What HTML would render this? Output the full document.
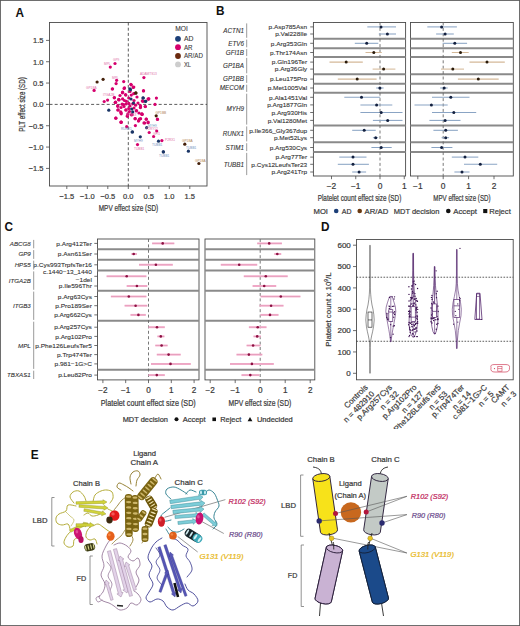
<!DOCTYPE html><html><head><meta charset="utf-8"><style>html,body{margin:0;padding:0;background:#fff;}svg{display:block;font-family:"Liberation Sans",sans-serif;}</style></head><body>
<svg width="520" height="626" viewBox="0 0 520 626">
<rect x="0" y="0" width="520" height="626" fill="#fff"/>
<text x="15.60" y="17.10" font-size="13.2" font-weight="bold" fill="#111" textLength="8.52" lengthAdjust="spacingAndGlyphs">A</text>
<rect x="49.50" y="22.50" width="157.50" height="163.50" fill="none" stroke="#4a4a4a" stroke-width="0.9"/>
<line x1="128.30" y1="22.50" x2="128.30" y2="186.00" stroke="#333" stroke-width="0.8" stroke-dasharray="3 2.2"/>
<line x1="49.50" y1="104.40" x2="207.00" y2="104.40" stroke="#333" stroke-width="0.8" stroke-dasharray="3 2.2"/>
<line x1="46.00" y1="40.40" x2="49.50" y2="40.40" stroke="#4a4a4a" stroke-width="0.8"/>
<text x="43.50" y="43.28" font-size="8.0" fill="#3a3a3a" stroke="#3a3a3a" stroke-width="0.22" text-anchor="end" textLength="10.45" lengthAdjust="spacingAndGlyphs">1.5</text>
<line x1="46.00" y1="61.73" x2="49.50" y2="61.73" stroke="#4a4a4a" stroke-width="0.8"/>
<text x="43.50" y="64.61" font-size="8.0" fill="#3a3a3a" stroke="#3a3a3a" stroke-width="0.22" text-anchor="end" textLength="10.45" lengthAdjust="spacingAndGlyphs">1.0</text>
<line x1="46.00" y1="83.06" x2="49.50" y2="83.06" stroke="#4a4a4a" stroke-width="0.8"/>
<text x="43.50" y="85.94" font-size="8.0" fill="#3a3a3a" stroke="#3a3a3a" stroke-width="0.22" text-anchor="end" textLength="10.45" lengthAdjust="spacingAndGlyphs">0.5</text>
<line x1="46.00" y1="104.40" x2="49.50" y2="104.40" stroke="#4a4a4a" stroke-width="0.8"/>
<text x="43.50" y="107.28" font-size="8.0" fill="#3a3a3a" stroke="#3a3a3a" stroke-width="0.22" text-anchor="end" textLength="10.45" lengthAdjust="spacingAndGlyphs">0.0</text>
<line x1="46.00" y1="125.74" x2="49.50" y2="125.74" stroke="#4a4a4a" stroke-width="0.8"/>
<text x="43.50" y="128.62" font-size="8.0" fill="#3a3a3a" stroke="#3a3a3a" stroke-width="0.22" text-anchor="end" textLength="14.84" lengthAdjust="spacingAndGlyphs">−0.5</text>
<line x1="46.00" y1="147.07" x2="49.50" y2="147.07" stroke="#4a4a4a" stroke-width="0.8"/>
<text x="43.50" y="149.95" font-size="8.0" fill="#3a3a3a" stroke="#3a3a3a" stroke-width="0.22" text-anchor="end" textLength="14.84" lengthAdjust="spacingAndGlyphs">−1.0</text>
<line x1="46.00" y1="168.41" x2="49.50" y2="168.41" stroke="#4a4a4a" stroke-width="0.8"/>
<text x="43.50" y="171.28" font-size="8.0" fill="#3a3a3a" stroke="#3a3a3a" stroke-width="0.22" text-anchor="end" textLength="14.84" lengthAdjust="spacingAndGlyphs">−1.5</text>
<line x1="66.80" y1="186.00" x2="66.80" y2="189.00" stroke="#4a4a4a" stroke-width="0.8"/>
<text x="66.80" y="199.18" font-size="8.0" fill="#3a3a3a" stroke="#3a3a3a" stroke-width="0.22" text-anchor="middle" textLength="14.84" lengthAdjust="spacingAndGlyphs">−1.5</text>
<line x1="87.30" y1="186.00" x2="87.30" y2="189.00" stroke="#4a4a4a" stroke-width="0.8"/>
<text x="87.30" y="199.18" font-size="8.0" fill="#3a3a3a" stroke="#3a3a3a" stroke-width="0.22" text-anchor="middle" textLength="14.84" lengthAdjust="spacingAndGlyphs">−1.0</text>
<line x1="107.80" y1="186.00" x2="107.80" y2="189.00" stroke="#4a4a4a" stroke-width="0.8"/>
<text x="107.80" y="199.18" font-size="8.0" fill="#3a3a3a" stroke="#3a3a3a" stroke-width="0.22" text-anchor="middle" textLength="14.84" lengthAdjust="spacingAndGlyphs">−0.5</text>
<line x1="128.30" y1="186.00" x2="128.30" y2="189.00" stroke="#4a4a4a" stroke-width="0.8"/>
<text x="128.30" y="199.18" font-size="8.0" fill="#3a3a3a" stroke="#3a3a3a" stroke-width="0.22" text-anchor="middle" textLength="10.45" lengthAdjust="spacingAndGlyphs">0.0</text>
<line x1="148.80" y1="186.00" x2="148.80" y2="189.00" stroke="#4a4a4a" stroke-width="0.8"/>
<text x="148.80" y="199.18" font-size="8.0" fill="#3a3a3a" stroke="#3a3a3a" stroke-width="0.22" text-anchor="middle" textLength="10.45" lengthAdjust="spacingAndGlyphs">0.5</text>
<line x1="169.30" y1="186.00" x2="169.30" y2="189.00" stroke="#4a4a4a" stroke-width="0.8"/>
<text x="169.30" y="199.18" font-size="8.0" fill="#3a3a3a" stroke="#3a3a3a" stroke-width="0.22" text-anchor="middle" textLength="10.45" lengthAdjust="spacingAndGlyphs">1.0</text>
<line x1="189.80" y1="186.00" x2="189.80" y2="189.00" stroke="#4a4a4a" stroke-width="0.8"/>
<text x="189.80" y="199.18" font-size="8.0" fill="#3a3a3a" stroke="#3a3a3a" stroke-width="0.22" text-anchor="middle" textLength="10.45" lengthAdjust="spacingAndGlyphs">1.5</text>
<text x="128.50" y="210.75" font-size="8.2" fill="#3a3a3a" stroke="#3a3a3a" stroke-width="0.22" text-anchor="middle" textLength="59.50" lengthAdjust="spacingAndGlyphs">MPV effect size (SD)</text>
<g transform="translate(21.6,104.5) rotate(-90)">
<text x="0.00" y="2.95" font-size="8.2" fill="#3a3a3a" stroke="#3a3a3a" stroke-width="0.22" text-anchor="middle" textLength="54.50" lengthAdjust="spacingAndGlyphs">PLT effect size (SD)</text>
</g>
<text x="175.20" y="31.28" font-size="6.6" fill="#3a3a3a" stroke="#3a3a3a" stroke-width="0.1" textLength="12.60" lengthAdjust="spacingAndGlyphs">MOI</text>
<circle cx="178.00" cy="38.80" r="2.9" fill="#1c3f78"/>
<text x="184.00" y="41.18" font-size="6.6" fill="#3a3a3a" stroke="#3a3a3a" stroke-width="0.1" textLength="9.50" lengthAdjust="spacingAndGlyphs">AD</text>
<circle cx="178.00" cy="47.20" r="2.9" fill="#d5006d"/>
<text x="184.00" y="49.58" font-size="6.6" fill="#3a3a3a" stroke="#3a3a3a" stroke-width="0.1" textLength="8.60" lengthAdjust="spacingAndGlyphs">AR</text>
<circle cx="178.00" cy="56.00" r="2.9" fill="#6b2a0e"/>
<text x="184.00" y="58.38" font-size="6.6" fill="#3a3a3a" stroke="#3a3a3a" stroke-width="0.1" textLength="18.90" lengthAdjust="spacingAndGlyphs">AR/AD</text>
<circle cx="178.00" cy="64.40" r="2.9" fill="#cdcdcd"/>
<text x="184.00" y="66.78" font-size="6.6" fill="#3a3a3a" stroke="#3a3a3a" stroke-width="0.1" textLength="7.00" lengthAdjust="spacingAndGlyphs">XL</text>
<circle cx="115.00" cy="63.50" r="1.6" fill="#d5006d"/>
<circle cx="110.30" cy="67.10" r="1.6" fill="#d5006d"/>
<circle cx="94.10" cy="90.40" r="1.6" fill="#d5006d"/>
<circle cx="116.60" cy="80.30" r="1.6" fill="#d5006d"/>
<circle cx="116.10" cy="83.60" r="1.6" fill="#d5006d"/>
<circle cx="112.30" cy="89.00" r="1.6" fill="#d5006d"/>
<circle cx="123.70" cy="81.60" r="1.6" fill="#d5006d"/>
<circle cx="143.90" cy="77.60" r="1.6" fill="#d5006d"/>
<circle cx="130.90" cy="84.30" r="1.6" fill="#d5006d"/>
<circle cx="143.50" cy="91.00" r="1.6" fill="#d5006d"/>
<circle cx="124.10" cy="88.40" r="1.6" fill="#d5006d"/>
<circle cx="133.80" cy="87.00" r="1.6" fill="#d5006d"/>
<circle cx="114.30" cy="97.80" r="1.6" fill="#d5006d"/>
<circle cx="107.60" cy="100.10" r="1.6" fill="#d5006d"/>
<circle cx="104.20" cy="101.50" r="1.6" fill="#d5006d"/>
<circle cx="115.30" cy="102.50" r="1.6" fill="#d5006d"/>
<circle cx="119.00" cy="100.00" r="1.6" fill="#d5006d"/>
<circle cx="122.40" cy="92.80" r="1.6" fill="#d5006d"/>
<circle cx="125.80" cy="95.10" r="1.6" fill="#d5006d"/>
<circle cx="148.00" cy="99.10" r="1.6" fill="#d5006d"/>
<circle cx="112.50" cy="88.80" r="1.6" fill="#d5006d"/>
<circle cx="124.50" cy="87.90" r="1.6" fill="#d5006d"/>
<circle cx="133.20" cy="87.40" r="1.6" fill="#d5006d"/>
<circle cx="131.30" cy="85.00" r="1.6" fill="#d5006d"/>
<circle cx="122.60" cy="92.20" r="1.6" fill="#d5006d"/>
<circle cx="125.50" cy="94.60" r="1.6" fill="#d5006d"/>
<circle cx="131.30" cy="95.10" r="1.6" fill="#d5006d"/>
<circle cx="133.70" cy="93.70" r="1.6" fill="#d5006d"/>
<circle cx="114.40" cy="97.50" r="1.6" fill="#d5006d"/>
<circle cx="118.80" cy="99.40" r="1.6" fill="#d5006d"/>
<circle cx="122.60" cy="98.90" r="1.6" fill="#d5006d"/>
<circle cx="126.40" cy="101.30" r="1.6" fill="#d5006d"/>
<circle cx="128.80" cy="98.00" r="1.6" fill="#d5006d"/>
<circle cx="115.40" cy="102.30" r="1.6" fill="#d5006d"/>
<circle cx="148.60" cy="98.90" r="1.6" fill="#d5006d"/>
<circle cx="142.30" cy="100.90" r="1.6" fill="#d5006d"/>
<circle cx="117.80" cy="105.70" r="1.6" fill="#d5006d"/>
<circle cx="122.10" cy="104.20" r="1.6" fill="#d5006d"/>
<circle cx="128.80" cy="103.30" r="1.6" fill="#d5006d"/>
<circle cx="132.70" cy="103.80" r="1.6" fill="#d5006d"/>
<circle cx="135.60" cy="105.20" r="1.6" fill="#d5006d"/>
<circle cx="140.40" cy="105.70" r="1.6" fill="#d5006d"/>
<circle cx="140.40" cy="107.60" r="1.6" fill="#d5006d"/>
<circle cx="145.20" cy="106.60" r="1.6" fill="#d5006d"/>
<circle cx="117.80" cy="110.00" r="1.6" fill="#d5006d"/>
<circle cx="120.70" cy="111.90" r="1.6" fill="#d5006d"/>
<circle cx="126.00" cy="110.00" r="1.6" fill="#d5006d"/>
<circle cx="128.80" cy="108.60" r="1.6" fill="#d5006d"/>
<circle cx="136.50" cy="110.50" r="1.6" fill="#d5006d"/>
<circle cx="127.90" cy="113.80" r="1.6" fill="#d5006d"/>
<circle cx="131.30" cy="114.80" r="1.6" fill="#d5006d"/>
<circle cx="127.40" cy="116.30" r="1.6" fill="#d5006d"/>
<circle cx="121.20" cy="113.80" r="1.6" fill="#d5006d"/>
<circle cx="141.80" cy="113.80" r="1.6" fill="#d5006d"/>
<circle cx="115.90" cy="118.20" r="1.6" fill="#d5006d"/>
<circle cx="135.10" cy="118.70" r="1.6" fill="#d5006d"/>
<circle cx="139.40" cy="119.10" r="1.6" fill="#d5006d"/>
<circle cx="146.20" cy="119.10" r="1.6" fill="#d5006d"/>
<circle cx="121.20" cy="122.00" r="1.6" fill="#d5006d"/>
<circle cx="138.50" cy="121.10" r="1.6" fill="#d5006d"/>
<circle cx="144.70" cy="123.00" r="1.6" fill="#d5006d"/>
<circle cx="148.10" cy="122.00" r="1.6" fill="#d5006d"/>
<circle cx="148.80" cy="98.80" r="1.6" fill="#d5006d"/>
<circle cx="156.40" cy="98.10" r="1.6" fill="#d5006d"/>
<circle cx="143.00" cy="101.30" r="1.6" fill="#d5006d"/>
<circle cx="155.00" cy="104.40" r="1.6" fill="#d5006d"/>
<circle cx="145.40" cy="106.50" r="1.6" fill="#d5006d"/>
<circle cx="140.60" cy="107.00" r="1.6" fill="#d5006d"/>
<circle cx="136.30" cy="110.90" r="1.6" fill="#d5006d"/>
<circle cx="142.00" cy="114.20" r="1.6" fill="#d5006d"/>
<circle cx="157.40" cy="119.00" r="1.6" fill="#d5006d"/>
<circle cx="143.50" cy="90.70" r="1.6" fill="#d5006d"/>
<circle cx="115.80" cy="118.10" r="1.6" fill="#d5006d"/>
<circle cx="121.00" cy="122.10" r="1.6" fill="#d5006d"/>
<circle cx="126.70" cy="126.70" r="1.6" fill="#d5006d"/>
<circle cx="135.20" cy="118.70" r="1.6" fill="#d5006d"/>
<circle cx="135.40" cy="125.60" r="1.6" fill="#d5006d"/>
<circle cx="138.80" cy="120.40" r="1.6" fill="#d5006d"/>
<circle cx="140.60" cy="118.70" r="1.6" fill="#d5006d"/>
<circle cx="142.10" cy="114.40" r="1.6" fill="#d5006d"/>
<circle cx="144.00" cy="122.90" r="1.6" fill="#d5006d"/>
<circle cx="146.30" cy="119.20" r="1.6" fill="#d5006d"/>
<circle cx="148.10" cy="122.70" r="1.6" fill="#d5006d"/>
<circle cx="149.20" cy="132.50" r="1.6" fill="#d5006d"/>
<circle cx="157.50" cy="119.50" r="1.6" fill="#d5006d"/>
<circle cx="156.70" cy="131.00" r="1.6" fill="#d5006d"/>
<circle cx="153.60" cy="136.50" r="1.6" fill="#d5006d"/>
<circle cx="137.50" cy="144.60" r="1.6" fill="#d5006d"/>
<circle cx="161.90" cy="140.60" r="1.6" fill="#d5006d"/>
<circle cx="118.70" cy="99.60" r="1.6" fill="#d5006d"/>
<circle cx="115.60" cy="102.20" r="1.6" fill="#d5006d"/>
<circle cx="117.70" cy="106.30" r="1.6" fill="#d5006d"/>
<circle cx="118.20" cy="109.90" r="1.6" fill="#d5006d"/>
<circle cx="121.10" cy="112.80" r="1.6" fill="#d5006d"/>
<circle cx="121.10" cy="122.40" r="1.6" fill="#d5006d"/>
<circle cx="127.30" cy="115.70" r="1.6" fill="#d5006d"/>
<circle cx="132.10" cy="114.70" r="1.6" fill="#d5006d"/>
<circle cx="123.50" cy="104.60" r="1.6" fill="#d5006d"/>
<circle cx="125.90" cy="109.90" r="1.6" fill="#d5006d"/>
<circle cx="124.00" cy="106.50" r="1.6" fill="#d5006d"/>
<circle cx="130.00" cy="106.00" r="1.6" fill="#d5006d"/>
<circle cx="134.00" cy="100.50" r="1.6" fill="#d5006d"/>
<circle cx="137.00" cy="97.00" r="1.6" fill="#d5006d"/>
<circle cx="126.00" cy="104.00" r="1.6" fill="#d5006d"/>
<circle cx="121.00" cy="107.50" r="1.6" fill="#d5006d"/>
<circle cx="129.50" cy="111.50" r="1.6" fill="#d5006d"/>
<circle cx="134.00" cy="108.00" r="1.6" fill="#d5006d"/>
<circle cx="138.00" cy="103.00" r="1.6" fill="#d5006d"/>
<circle cx="124.50" cy="100.50" r="1.6" fill="#d5006d"/>
<circle cx="130.00" cy="91.50" r="1.6" fill="#d5006d"/>
<circle cx="120.00" cy="95.50" r="1.6" fill="#d5006d"/>
<circle cx="139.00" cy="113.00" r="1.6" fill="#d5006d"/>
<circle cx="130.50" cy="89.70" r="1.6" fill="#1a3566"/>
<circle cx="129.80" cy="88.80" r="1.6" fill="#1a3566"/>
<circle cx="143.30" cy="98.00" r="1.6" fill="#1a3566"/>
<circle cx="145.70" cy="101.30" r="1.6" fill="#1a3566"/>
<circle cx="108.80" cy="110.20" r="1.6" fill="#1a3566"/>
<circle cx="131.70" cy="109.00" r="1.6" fill="#1a3566"/>
<circle cx="132.70" cy="111.90" r="1.6" fill="#1a3566"/>
<circle cx="143.00" cy="97.90" r="1.6" fill="#1a3566"/>
<circle cx="145.40" cy="101.30" r="1.6" fill="#1a3566"/>
<circle cx="132.50" cy="131.90" r="1.6" fill="#1a3566"/>
<circle cx="146.70" cy="127.70" r="1.6" fill="#1a3566"/>
<circle cx="140.30" cy="136.80" r="1.6" fill="#1a3566"/>
<circle cx="158.50" cy="141.20" r="1.6" fill="#1a3566"/>
<circle cx="163.30" cy="151.80" r="1.6" fill="#1a3566"/>
<circle cx="163.40" cy="151.90" r="1.6" fill="#1a3566"/>
<circle cx="188.40" cy="151.20" r="1.6" fill="#1a3566"/>
<circle cx="132.10" cy="132.00" r="1.6" fill="#1a3566"/>
<circle cx="131.00" cy="99.00" r="1.6" fill="#1a3566"/>
<circle cx="133.50" cy="103.00" r="1.6" fill="#1a3566"/>
<circle cx="103.10" cy="79.30" r="1.6" fill="#45200a"/>
<circle cx="97.10" cy="82.00" r="1.6" fill="#45200a"/>
<circle cx="135.90" cy="93.10" r="1.6" fill="#45200a"/>
<circle cx="135.80" cy="92.90" r="1.6" fill="#45200a"/>
<circle cx="156.20" cy="115.80" r="1.6" fill="#45200a"/>
<circle cx="184.80" cy="144.20" r="1.6" fill="#45200a"/>
<circle cx="198.90" cy="163.50" r="1.6" fill="#45200a"/>
<text x="113.00" y="60.95" font-size="3.2" fill="#e070a8">GP9</text>
<text x="104.00" y="64.65" font-size="3.2" fill="#e070a8">MPL</text>
<text x="86.00" y="88.65" font-size="3.2" fill="#e070a8">GP1BA</text>
<text x="112.00" y="78.65" font-size="3.2" fill="#e070a8">MPL</text>
<text x="140.00" y="75.35" font-size="3.2" fill="#e070a8">ADAMTS13</text>
<text x="103.00" y="95.65" font-size="3.2" fill="#e070a8">ITGA2B</text>
<text x="155.50" y="113.95" font-size="3.2" fill="#b08050">GP1BB</text>
<text x="121.00" y="129.65" font-size="3.2" fill="#7090c0">RUNX1</text>
<text x="148.00" y="126.65" font-size="3.2" fill="#70a0c0">MYH9</text>
<text x="134.00" y="141.65" font-size="3.2" fill="#7090c0">MYH9</text>
<text x="134.00" y="149.65" font-size="3.2" fill="#e070a8">TUBB1</text>
<text x="152.00" y="145.65" font-size="3.2" fill="#7090c0">TUBB1</text>
<text x="159.00" y="156.65" font-size="3.2" fill="#7090c0">TUBB1</text>
<text x="165.00" y="140.95" font-size="3.2" fill="#e070a8">P2RX1</text>
<text x="146.00" y="129.65" font-size="3.2" fill="#e070a8">P2RY12</text>
<text x="153.00" y="135.15" font-size="3.2" fill="#e070a8">GFI1</text>
<text x="182.00" y="142.15" font-size="3.2" fill="#b08050">GP1BA</text>
<text x="186.00" y="149.15" font-size="3.2" fill="#7090c0">TUBB1</text>
<text x="195.00" y="161.65" font-size="3.2" fill="#b08050">GP1BA</text>
<text x="127.00" y="116.15" font-size="3.2" fill="#e070a8">ITGB3</text>
<text x="215.90" y="15.10" font-size="13.2" font-weight="bold" fill="#111" textLength="8.52" lengthAdjust="spacingAndGlyphs">B</text>
<rect x="313.40" y="22.50" width="92.20" height="153.50" fill="#fff" stroke="#4a4a4a" stroke-width="0.9"/>
<line x1="313.40" y1="38.70" x2="405.60" y2="38.70" stroke="#8a8a8a" stroke-width="2.0"/>
<line x1="313.40" y1="48.20" x2="405.60" y2="48.20" stroke="#8a8a8a" stroke-width="2.0"/>
<line x1="313.40" y1="57.00" x2="405.60" y2="57.00" stroke="#8a8a8a" stroke-width="2.0"/>
<line x1="313.40" y1="74.20" x2="405.60" y2="74.20" stroke="#8a8a8a" stroke-width="2.0"/>
<line x1="313.40" y1="83.80" x2="405.60" y2="83.80" stroke="#8a8a8a" stroke-width="2.0"/>
<line x1="313.40" y1="92.80" x2="405.60" y2="92.80" stroke="#8a8a8a" stroke-width="2.0"/>
<line x1="313.40" y1="125.50" x2="405.60" y2="125.50" stroke="#8a8a8a" stroke-width="2.0"/>
<line x1="313.40" y1="142.30" x2="405.60" y2="142.30" stroke="#8a8a8a" stroke-width="2.0"/>
<line x1="313.40" y1="152.00" x2="405.60" y2="152.00" stroke="#8a8a8a" stroke-width="2.0"/>
<line x1="380.00" y1="22.50" x2="380.00" y2="176.00" stroke="#6a6a6a" stroke-width="0.9" stroke-dasharray="3 2.4"/>
<line x1="331.50" y1="176.00" x2="331.50" y2="179.20" stroke="#4a4a4a" stroke-width="0.8"/>
<text x="331.50" y="188.62" font-size="8.4" fill="#3a3a3a" stroke="#3a3a3a" stroke-width="0.22" text-anchor="middle">−2</text>
<line x1="355.75" y1="176.00" x2="355.75" y2="179.20" stroke="#4a4a4a" stroke-width="0.8"/>
<text x="355.75" y="188.62" font-size="8.4" fill="#3a3a3a" stroke="#3a3a3a" stroke-width="0.22" text-anchor="middle">−1</text>
<line x1="380.00" y1="176.00" x2="380.00" y2="179.20" stroke="#4a4a4a" stroke-width="0.8"/>
<text x="380.00" y="188.62" font-size="8.4" fill="#3a3a3a" stroke="#3a3a3a" stroke-width="0.22" text-anchor="middle">0</text>
<line x1="404.25" y1="176.00" x2="404.25" y2="179.20" stroke="#4a4a4a" stroke-width="0.8"/>
<text x="404.25" y="188.62" font-size="8.4" fill="#3a3a3a" stroke="#3a3a3a" stroke-width="0.22" text-anchor="middle">1</text>
<text x="359.50" y="201.10" font-size="8.6" fill="#3a3a3a" stroke="#3a3a3a" stroke-width="0.22" text-anchor="middle" textLength="83.60" lengthAdjust="spacingAndGlyphs">Platelet count effect size (SD)</text>
<line x1="367.30" y1="26.90" x2="396.00" y2="26.90" stroke="#8aa4c4" stroke-width="1.05"/>
<circle cx="381.00" cy="26.90" r="1.5" fill="#13203f"/>
<line x1="378.80" y1="34.00" x2="396.00" y2="34.00" stroke="#8aa4c4" stroke-width="1.05"/>
<circle cx="387.40" cy="34.00" r="1.5" fill="#13203f"/>
<line x1="354.80" y1="43.30" x2="378.30" y2="43.30" stroke="#8aa4c4" stroke-width="1.05"/>
<circle cx="366.70" cy="43.30" r="1.5" fill="#13203f"/>
<line x1="365.50" y1="52.50" x2="381.80" y2="52.50" stroke="#d4b898" stroke-width="1.05"/>
<circle cx="373.80" cy="52.50" r="1.5" fill="#2a1a0a"/>
<line x1="329.50" y1="62.10" x2="362.80" y2="62.10" stroke="#d4b898" stroke-width="1.05"/>
<circle cx="346.20" cy="62.10" r="1.5" fill="#2a1a0a"/>
<line x1="372.60" y1="69.10" x2="395.40" y2="69.10" stroke="#d4b898" stroke-width="1.05"/>
<circle cx="383.60" cy="69.10" r="1.5" fill="#2a1a0a"/>
<line x1="337.80" y1="79.10" x2="376.60" y2="79.10" stroke="#d4b898" stroke-width="1.05"/>
<circle cx="357.20" cy="79.10" r="1.5" fill="#2a1a0a"/>
<line x1="376.20" y1="88.00" x2="383.60" y2="88.00" stroke="#8aa4c4" stroke-width="1.05"/>
<circle cx="379.90" cy="88.00" r="1.5" fill="#13203f"/>
<line x1="344.30" y1="97.30" x2="380.30" y2="97.30" stroke="#8aa4c4" stroke-width="1.05"/>
<circle cx="361.50" cy="97.30" r="1.5" fill="#13203f"/>
<line x1="360.40" y1="104.90" x2="392.30" y2="104.90" stroke="#8aa4c4" stroke-width="1.05"/>
<circle cx="376.60" cy="104.90" r="1.5" fill="#13203f"/>
<line x1="360.40" y1="112.50" x2="402.50" y2="112.50" stroke="#8aa4c4" stroke-width="1.05"/>
<circle cx="381.20" cy="112.50" r="1.5" fill="#13203f"/>
<line x1="372.90" y1="120.40" x2="402.50" y2="120.40" stroke="#8aa4c4" stroke-width="1.05"/>
<circle cx="387.70" cy="120.40" r="1.5" fill="#13203f"/>
<line x1="352.20" y1="130.30" x2="375.70" y2="130.30" stroke="#8aa4c4" stroke-width="1.05"/>
<circle cx="364.20" cy="130.30" r="1.5" fill="#13203f"/>
<line x1="372.90" y1="137.70" x2="378.10" y2="137.70" stroke="#8aa4c4" stroke-width="1.05"/>
<circle cx="375.70" cy="137.70" r="1.5" fill="#13203f"/>
<line x1="371.40" y1="147.50" x2="391.70" y2="147.50" stroke="#8aa4c4" stroke-width="1.05"/>
<circle cx="381.20" cy="147.50" r="1.5" fill="#13203f"/>
<line x1="339.30" y1="157.10" x2="366.50" y2="157.10" stroke="#8aa4c4" stroke-width="1.05"/>
<circle cx="353.00" cy="157.10" r="1.5" fill="#13203f"/>
<line x1="337.80" y1="164.30" x2="368.90" y2="164.30" stroke="#8aa4c4" stroke-width="1.05"/>
<circle cx="353.00" cy="164.30" r="1.5" fill="#13203f"/>
<line x1="352.20" y1="172.00" x2="366.10" y2="172.00" stroke="#8aa4c4" stroke-width="1.05"/>
<circle cx="359.10" cy="172.00" r="1.5" fill="#13203f"/>
<rect x="410.50" y="22.50" width="102.80" height="153.50" fill="#fff" stroke="#4a4a4a" stroke-width="0.9"/>
<line x1="410.50" y1="38.70" x2="513.30" y2="38.70" stroke="#8a8a8a" stroke-width="2.0"/>
<line x1="410.50" y1="48.20" x2="513.30" y2="48.20" stroke="#8a8a8a" stroke-width="2.0"/>
<line x1="410.50" y1="57.00" x2="513.30" y2="57.00" stroke="#8a8a8a" stroke-width="2.0"/>
<line x1="410.50" y1="74.20" x2="513.30" y2="74.20" stroke="#8a8a8a" stroke-width="2.0"/>
<line x1="410.50" y1="83.80" x2="513.30" y2="83.80" stroke="#8a8a8a" stroke-width="2.0"/>
<line x1="410.50" y1="92.80" x2="513.30" y2="92.80" stroke="#8a8a8a" stroke-width="2.0"/>
<line x1="410.50" y1="125.50" x2="513.30" y2="125.50" stroke="#8a8a8a" stroke-width="2.0"/>
<line x1="410.50" y1="142.30" x2="513.30" y2="142.30" stroke="#8a8a8a" stroke-width="2.0"/>
<line x1="410.50" y1="152.00" x2="513.30" y2="152.00" stroke="#8a8a8a" stroke-width="2.0"/>
<line x1="443.20" y1="22.50" x2="443.20" y2="176.00" stroke="#6a6a6a" stroke-width="0.9" stroke-dasharray="3 2.4"/>
<line x1="417.80" y1="176.00" x2="417.80" y2="179.20" stroke="#4a4a4a" stroke-width="0.8"/>
<text x="417.80" y="188.62" font-size="8.4" fill="#3a3a3a" stroke="#3a3a3a" stroke-width="0.22" text-anchor="middle">−1</text>
<line x1="443.20" y1="176.00" x2="443.20" y2="179.20" stroke="#4a4a4a" stroke-width="0.8"/>
<text x="443.20" y="188.62" font-size="8.4" fill="#3a3a3a" stroke="#3a3a3a" stroke-width="0.22" text-anchor="middle">0</text>
<line x1="468.60" y1="176.00" x2="468.60" y2="179.20" stroke="#4a4a4a" stroke-width="0.8"/>
<text x="468.60" y="188.62" font-size="8.4" fill="#3a3a3a" stroke="#3a3a3a" stroke-width="0.22" text-anchor="middle">1</text>
<line x1="494.00" y1="176.00" x2="494.00" y2="179.20" stroke="#4a4a4a" stroke-width="0.8"/>
<text x="494.00" y="188.62" font-size="8.4" fill="#3a3a3a" stroke="#3a3a3a" stroke-width="0.22" text-anchor="middle">2</text>
<text x="461.90" y="201.10" font-size="8.6" fill="#3a3a3a" stroke="#3a3a3a" stroke-width="0.22" text-anchor="middle" textLength="57.30" lengthAdjust="spacingAndGlyphs">MPV effect size (SD)</text>
<line x1="427.30" y1="26.90" x2="456.90" y2="26.90" stroke="#8aa4c4" stroke-width="1.05"/>
<circle cx="441.60" cy="26.90" r="1.5" fill="#13203f"/>
<line x1="436.10" y1="34.00" x2="453.80" y2="34.00" stroke="#8aa4c4" stroke-width="1.05"/>
<circle cx="445.10" cy="34.00" r="1.5" fill="#13203f"/>
<line x1="442.60" y1="43.30" x2="467.10" y2="43.30" stroke="#8aa4c4" stroke-width="1.05"/>
<circle cx="454.80" cy="43.30" r="1.5" fill="#13203f"/>
<line x1="451.80" y1="52.50" x2="468.70" y2="52.50" stroke="#d4b898" stroke-width="1.05"/>
<circle cx="460.50" cy="52.50" r="1.5" fill="#2a1a0a"/>
<line x1="469.50" y1="62.10" x2="504.80" y2="62.10" stroke="#d4b898" stroke-width="1.05"/>
<circle cx="487.00" cy="62.10" r="1.5" fill="#2a1a0a"/>
<line x1="441.00" y1="69.10" x2="464.00" y2="69.10" stroke="#d4b898" stroke-width="1.05"/>
<circle cx="452.80" cy="69.10" r="1.5" fill="#2a1a0a"/>
<line x1="457.90" y1="79.10" x2="498.70" y2="79.10" stroke="#d4b898" stroke-width="1.05"/>
<circle cx="478.30" cy="79.10" r="1.5" fill="#2a1a0a"/>
<line x1="440.20" y1="88.00" x2="447.70" y2="88.00" stroke="#8aa4c4" stroke-width="1.05"/>
<circle cx="444.20" cy="88.00" r="1.5" fill="#13203f"/>
<line x1="432.00" y1="97.30" x2="469.50" y2="97.30" stroke="#8aa4c4" stroke-width="1.05"/>
<circle cx="450.80" cy="97.30" r="1.5" fill="#13203f"/>
<line x1="414.50" y1="104.90" x2="447.70" y2="104.90" stroke="#8aa4c4" stroke-width="1.05"/>
<circle cx="431.40" cy="104.90" r="1.5" fill="#13203f"/>
<line x1="432.00" y1="112.50" x2="476.20" y2="112.50" stroke="#8aa4c4" stroke-width="1.05"/>
<circle cx="453.80" cy="112.50" r="1.5" fill="#13203f"/>
<line x1="429.40" y1="120.40" x2="460.50" y2="120.40" stroke="#8aa4c4" stroke-width="1.05"/>
<circle cx="445.10" cy="120.40" r="1.5" fill="#13203f"/>
<line x1="433.40" y1="130.30" x2="457.90" y2="130.30" stroke="#8aa4c4" stroke-width="1.05"/>
<circle cx="445.70" cy="130.30" r="1.5" fill="#13203f"/>
<line x1="441.60" y1="137.70" x2="449.10" y2="137.70" stroke="#8aa4c4" stroke-width="1.05"/>
<circle cx="445.70" cy="137.70" r="1.5" fill="#13203f"/>
<line x1="431.40" y1="147.50" x2="452.40" y2="147.50" stroke="#8aa4c4" stroke-width="1.05"/>
<circle cx="441.60" cy="147.50" r="1.5" fill="#13203f"/>
<line x1="451.80" y1="157.10" x2="478.30" y2="157.10" stroke="#8aa4c4" stroke-width="1.05"/>
<circle cx="465.00" cy="157.10" r="1.5" fill="#13203f"/>
<line x1="464.00" y1="164.30" x2="497.20" y2="164.30" stroke="#8aa4c4" stroke-width="1.05"/>
<circle cx="480.30" cy="164.30" r="1.5" fill="#13203f"/>
<line x1="454.40" y1="172.00" x2="469.50" y2="172.00" stroke="#8aa4c4" stroke-width="1.05"/>
<circle cx="462.00" cy="172.00" r="1.5" fill="#13203f"/>
<line x1="310.20" y1="26.90" x2="313.40" y2="26.90" stroke="#4a4a4a" stroke-width="0.8"/>
<line x1="310.20" y1="34.00" x2="313.40" y2="34.00" stroke="#4a4a4a" stroke-width="0.8"/>
<line x1="310.20" y1="43.30" x2="313.40" y2="43.30" stroke="#4a4a4a" stroke-width="0.8"/>
<line x1="310.20" y1="52.50" x2="313.40" y2="52.50" stroke="#4a4a4a" stroke-width="0.8"/>
<line x1="310.20" y1="62.10" x2="313.40" y2="62.10" stroke="#4a4a4a" stroke-width="0.8"/>
<line x1="310.20" y1="69.10" x2="313.40" y2="69.10" stroke="#4a4a4a" stroke-width="0.8"/>
<line x1="310.20" y1="79.10" x2="313.40" y2="79.10" stroke="#4a4a4a" stroke-width="0.8"/>
<line x1="310.20" y1="88.00" x2="313.40" y2="88.00" stroke="#4a4a4a" stroke-width="0.8"/>
<line x1="310.20" y1="97.30" x2="313.40" y2="97.30" stroke="#4a4a4a" stroke-width="0.8"/>
<line x1="310.20" y1="104.90" x2="313.40" y2="104.90" stroke="#4a4a4a" stroke-width="0.8"/>
<line x1="310.20" y1="112.50" x2="313.40" y2="112.50" stroke="#4a4a4a" stroke-width="0.8"/>
<line x1="310.20" y1="120.40" x2="313.40" y2="120.40" stroke="#4a4a4a" stroke-width="0.8"/>
<line x1="310.20" y1="130.30" x2="313.40" y2="130.30" stroke="#4a4a4a" stroke-width="0.8"/>
<line x1="310.20" y1="137.70" x2="313.40" y2="137.70" stroke="#4a4a4a" stroke-width="0.8"/>
<line x1="310.20" y1="147.50" x2="313.40" y2="147.50" stroke="#4a4a4a" stroke-width="0.8"/>
<line x1="310.20" y1="157.10" x2="313.40" y2="157.10" stroke="#4a4a4a" stroke-width="0.8"/>
<line x1="310.20" y1="164.30" x2="313.40" y2="164.30" stroke="#4a4a4a" stroke-width="0.8"/>
<line x1="310.20" y1="172.00" x2="313.40" y2="172.00" stroke="#4a4a4a" stroke-width="0.8"/>
<text x="307.10" y="29.10" font-size="6.1" fill="#333333" stroke="#333333" stroke-width="0.1" text-anchor="end" textLength="38.46" lengthAdjust="spacingAndGlyphs">p.Asp785Asn</text>
<text x="307.10" y="36.20" font-size="6.1" fill="#333333" stroke="#333333" stroke-width="0.1" text-anchor="end" textLength="31.87" lengthAdjust="spacingAndGlyphs">p.Val228Ile</text>
<text x="307.10" y="45.50" font-size="6.1" fill="#333333" stroke="#333333" stroke-width="0.1" text-anchor="end" textLength="36.30" lengthAdjust="spacingAndGlyphs">p.Arg353Gln</text>
<text x="307.10" y="54.70" font-size="6.1" fill="#333333" stroke="#333333" stroke-width="0.1" text-anchor="end" textLength="37.02" lengthAdjust="spacingAndGlyphs">p.Thr174Asn</text>
<text x="307.10" y="64.30" font-size="6.1" fill="#333333" stroke="#333333" stroke-width="0.1" text-anchor="end" textLength="35.22" lengthAdjust="spacingAndGlyphs">p.Gln196Ter</text>
<text x="307.10" y="71.30" font-size="6.1" fill="#333333" stroke="#333333" stroke-width="0.1" text-anchor="end" textLength="32.34" lengthAdjust="spacingAndGlyphs">p.Arg36Gly</text>
<text x="307.10" y="81.30" font-size="6.1" fill="#333333" stroke="#333333" stroke-width="0.1" text-anchor="end" textLength="37.03" lengthAdjust="spacingAndGlyphs">p.Leu175Pro</text>
<text x="307.10" y="90.20" font-size="6.1" fill="#333333" stroke="#333333" stroke-width="0.1" text-anchor="end" textLength="39.42" lengthAdjust="spacingAndGlyphs">p.Met1005Val</text>
<text x="307.10" y="99.50" font-size="6.1" fill="#333333" stroke="#333333" stroke-width="0.1" text-anchor="end" textLength="37.99" lengthAdjust="spacingAndGlyphs">p.Ala1451Val</text>
<text x="307.10" y="107.10" font-size="6.1" fill="#333333" stroke="#333333" stroke-width="0.1" text-anchor="end" textLength="39.90" lengthAdjust="spacingAndGlyphs">p.Arg1877Gln</text>
<text x="307.10" y="114.70" font-size="6.1" fill="#333333" stroke="#333333" stroke-width="0.1" text-anchor="end" textLength="35.58" lengthAdjust="spacingAndGlyphs">p.Arg930His</text>
<text x="307.10" y="122.60" font-size="6.1" fill="#333333" stroke="#333333" stroke-width="0.1" text-anchor="end" textLength="39.42" lengthAdjust="spacingAndGlyphs">p.Val1280Met</text>
<text x="307.10" y="132.50" font-size="6.1" fill="#333333" stroke="#333333" stroke-width="0.1" text-anchor="end" textLength="57.88" lengthAdjust="spacingAndGlyphs">p.Ile366_Gly367dup</text>
<text x="307.10" y="139.90" font-size="6.1" fill="#333333" stroke="#333333" stroke-width="0.1" text-anchor="end" textLength="33.18" lengthAdjust="spacingAndGlyphs">p.Met52Lys</text>
<text x="307.10" y="149.70" font-size="6.1" fill="#333333" stroke="#333333" stroke-width="0.1" text-anchor="end" textLength="37.38" lengthAdjust="spacingAndGlyphs">p.Arg530Cys</text>
<text x="307.10" y="159.30" font-size="6.1" fill="#333333" stroke="#333333" stroke-width="0.1" text-anchor="end" textLength="31.63" lengthAdjust="spacingAndGlyphs">p.Arg77Ter</text>
<text x="307.10" y="166.50" font-size="6.1" fill="#333333" stroke="#333333" stroke-width="0.1" text-anchor="end" textLength="55.71" lengthAdjust="spacingAndGlyphs">p.Cys12LeufsTer23</text>
<text x="307.10" y="174.20" font-size="6.1" fill="#333333" stroke="#333333" stroke-width="0.1" text-anchor="end" textLength="35.70" lengthAdjust="spacingAndGlyphs">p.Arg241Trp</text>
<text x="244.00" y="32.72" font-size="6.3" fill="#333333" stroke="#333333" stroke-width="0.1" text-anchor="end" font-style="italic">ACTN1</text>
<line x1="246.70" y1="23.40" x2="246.70" y2="37.80" stroke="#9a9a9a" stroke-width="1.0"/>
<text x="244.00" y="45.57" font-size="6.3" fill="#333333" stroke="#333333" stroke-width="0.1" text-anchor="end" font-style="italic">ETV6</text>
<line x1="246.70" y1="39.60" x2="246.70" y2="47.30" stroke="#9a9a9a" stroke-width="1.0"/>
<text x="244.00" y="54.77" font-size="6.3" fill="#333333" stroke="#333333" stroke-width="0.1" text-anchor="end" font-style="italic">GFI1B</text>
<line x1="246.70" y1="49.10" x2="246.70" y2="56.10" stroke="#9a9a9a" stroke-width="1.0"/>
<text x="244.00" y="67.87" font-size="6.3" fill="#333333" stroke="#333333" stroke-width="0.1" text-anchor="end" font-style="italic">GP1BA</text>
<line x1="246.70" y1="57.90" x2="246.70" y2="73.30" stroke="#9a9a9a" stroke-width="1.0"/>
<text x="244.00" y="81.37" font-size="6.3" fill="#333333" stroke="#333333" stroke-width="0.1" text-anchor="end" font-style="italic">GP1BB</text>
<line x1="246.70" y1="75.10" x2="246.70" y2="82.90" stroke="#9a9a9a" stroke-width="1.0"/>
<text x="244.00" y="90.27" font-size="6.3" fill="#333333" stroke="#333333" stroke-width="0.1" text-anchor="end" font-style="italic">MECOM</text>
<line x1="246.70" y1="84.70" x2="246.70" y2="91.90" stroke="#9a9a9a" stroke-width="1.0"/>
<text x="244.00" y="111.12" font-size="6.3" fill="#333333" stroke="#333333" stroke-width="0.1" text-anchor="end" font-style="italic">MYH9</text>
<line x1="246.70" y1="93.70" x2="246.70" y2="124.60" stroke="#9a9a9a" stroke-width="1.0"/>
<text x="244.00" y="136.27" font-size="6.3" fill="#333333" stroke="#333333" stroke-width="0.1" text-anchor="end" font-style="italic">RUNX1</text>
<line x1="246.70" y1="126.40" x2="246.70" y2="141.40" stroke="#9a9a9a" stroke-width="1.0"/>
<text x="244.00" y="149.77" font-size="6.3" fill="#333333" stroke="#333333" stroke-width="0.1" text-anchor="end" font-style="italic">STIM1</text>
<line x1="246.70" y1="143.20" x2="246.70" y2="151.10" stroke="#9a9a9a" stroke-width="1.0"/>
<text x="244.00" y="166.82" font-size="6.3" fill="#333333" stroke="#333333" stroke-width="0.1" text-anchor="end" font-style="italic">TUBB1</text>
<line x1="246.70" y1="152.90" x2="246.70" y2="175.10" stroke="#9a9a9a" stroke-width="1.0"/>
<text x="313.50" y="213.88" font-size="8.0" fill="#3a3a3a" stroke="#3a3a3a" stroke-width="0.22" textLength="14.50" lengthAdjust="spacingAndGlyphs">MOI</text>
<circle cx="336.20" cy="211.00" r="2.3" fill="#1c3f78"/>
<text x="341.80" y="213.88" font-size="8.0" fill="#3a3a3a" stroke="#3a3a3a" stroke-width="0.22" textLength="9.70" lengthAdjust="spacingAndGlyphs">AD</text>
<circle cx="359.70" cy="211.00" r="2.3" fill="#6b3a10"/>
<text x="364.60" y="213.88" font-size="8.0" fill="#3a3a3a" stroke="#3a3a3a" stroke-width="0.22" textLength="23.70" lengthAdjust="spacingAndGlyphs">AR/AD</text>
<text x="393.80" y="213.88" font-size="8.0" fill="#3a3a3a" stroke="#3a3a3a" stroke-width="0.22" textLength="45.60" lengthAdjust="spacingAndGlyphs">MDT decision</text>
<circle cx="448.30" cy="211.00" r="2.3" fill="#111"/>
<text x="453.20" y="213.88" font-size="8.0" fill="#3a3a3a" stroke="#3a3a3a" stroke-width="0.22" textLength="23.80" lengthAdjust="spacingAndGlyphs">Accept</text>
<rect x="483.20" y="209.00" width="4.10" height="4.10" fill="#111" stroke="none" stroke-width="0.8"/>
<text x="489.20" y="213.88" font-size="8.0" fill="#3a3a3a" stroke="#3a3a3a" stroke-width="0.22" textLength="21.60" lengthAdjust="spacingAndGlyphs">Reject</text>
<text x="4.40" y="230.80" font-size="13.2" font-weight="bold" fill="#111" textLength="8.52" lengthAdjust="spacingAndGlyphs">C</text>
<rect x="97.50" y="239.00" width="101.50" height="140.90" fill="#fff" stroke="#4a4a4a" stroke-width="0.9"/>
<line x1="97.50" y1="249.20" x2="199.00" y2="249.20" stroke="#8a8a8a" stroke-width="2.0"/>
<line x1="97.50" y1="259.80" x2="199.00" y2="259.80" stroke="#8a8a8a" stroke-width="2.0"/>
<line x1="97.50" y1="270.50" x2="199.00" y2="270.50" stroke="#8a8a8a" stroke-width="2.0"/>
<line x1="97.50" y1="290.70" x2="199.00" y2="290.70" stroke="#8a8a8a" stroke-width="2.0"/>
<line x1="97.50" y1="320.80" x2="199.00" y2="320.80" stroke="#8a8a8a" stroke-width="2.0"/>
<line x1="97.50" y1="369.80" x2="199.00" y2="369.80" stroke="#8a8a8a" stroke-width="2.0"/>
<line x1="148.50" y1="239.00" x2="148.50" y2="379.90" stroke="#6a6a6a" stroke-width="0.9" stroke-dasharray="3 2.4"/>
<line x1="102.90" y1="379.90" x2="102.90" y2="383.10" stroke="#4a4a4a" stroke-width="0.8"/>
<text x="102.90" y="392.55" font-size="8.2" fill="#3a3a3a" stroke="#3a3a3a" stroke-width="0.22" text-anchor="middle">−2</text>
<line x1="125.70" y1="379.90" x2="125.70" y2="383.10" stroke="#4a4a4a" stroke-width="0.8"/>
<text x="125.70" y="392.55" font-size="8.2" fill="#3a3a3a" stroke="#3a3a3a" stroke-width="0.22" text-anchor="middle">−1</text>
<line x1="148.50" y1="379.90" x2="148.50" y2="383.10" stroke="#4a4a4a" stroke-width="0.8"/>
<text x="148.50" y="392.55" font-size="8.2" fill="#3a3a3a" stroke="#3a3a3a" stroke-width="0.22" text-anchor="middle">0</text>
<line x1="171.30" y1="379.90" x2="171.30" y2="383.10" stroke="#4a4a4a" stroke-width="0.8"/>
<text x="171.30" y="392.55" font-size="8.2" fill="#3a3a3a" stroke="#3a3a3a" stroke-width="0.22" text-anchor="middle">1</text>
<line x1="194.10" y1="379.90" x2="194.10" y2="383.10" stroke="#4a4a4a" stroke-width="0.8"/>
<text x="194.10" y="392.55" font-size="8.2" fill="#3a3a3a" stroke="#3a3a3a" stroke-width="0.22" text-anchor="middle">2</text>
<text x="148.25" y="405.90" font-size="8.6" fill="#3a3a3a" stroke="#3a3a3a" stroke-width="0.22" text-anchor="middle" textLength="95.00" lengthAdjust="spacingAndGlyphs">Platelet count effect size (SD)</text>
<line x1="152.10" y1="243.40" x2="174.30" y2="243.40" stroke="#f6b3d0" stroke-width="2.0"/>
<line x1="152.10" y1="243.40" x2="174.30" y2="243.40" stroke="#d88aa8" stroke-width="0.5"/>
<circle cx="162.70" cy="243.40" r="1.3" fill="#8c1042"/>
<line x1="131.40" y1="254.00" x2="136.90" y2="254.00" stroke="#f6b3d0" stroke-width="2.0"/>
<line x1="131.40" y1="254.00" x2="136.90" y2="254.00" stroke="#d88aa8" stroke-width="0.5"/>
<circle cx="133.70" cy="254.00" r="1.3" fill="#8c1042"/>
<line x1="139.00" y1="264.80" x2="172.80" y2="264.80" stroke="#f6b3d0" stroke-width="2.0"/>
<line x1="139.00" y1="264.80" x2="172.80" y2="264.80" stroke="#d88aa8" stroke-width="0.5"/>
<circle cx="155.90" cy="264.80" r="1.3" fill="#8c1042"/>
<line x1="106.60" y1="276.30" x2="146.40" y2="276.30" stroke="#f6b3d0" stroke-width="2.0"/>
<line x1="106.60" y1="276.30" x2="146.40" y2="276.30" stroke="#d88aa8" stroke-width="0.5"/>
<circle cx="126.70" cy="276.30" r="1.3" fill="#8c1042"/>
<line x1="126.70" y1="286.00" x2="147.30" y2="286.00" stroke="#f6b3d0" stroke-width="2.0"/>
<line x1="126.70" y1="286.00" x2="147.30" y2="286.00" stroke="#d88aa8" stroke-width="0.5"/>
<circle cx="136.90" cy="286.00" r="1.3" fill="#8c1042"/>
<line x1="110.90" y1="296.50" x2="146.40" y2="296.50" stroke="#f6b3d0" stroke-width="2.0"/>
<line x1="110.90" y1="296.50" x2="146.40" y2="296.50" stroke="#d88aa8" stroke-width="0.5"/>
<circle cx="128.80" cy="296.50" r="1.3" fill="#8c1042"/>
<line x1="124.60" y1="305.70" x2="147.30" y2="305.70" stroke="#f6b3d0" stroke-width="2.0"/>
<line x1="124.60" y1="305.70" x2="147.30" y2="305.70" stroke="#d88aa8" stroke-width="0.5"/>
<circle cx="135.60" cy="305.70" r="1.3" fill="#8c1042"/>
<line x1="130.50" y1="314.90" x2="145.80" y2="314.90" stroke="#f6b3d0" stroke-width="2.0"/>
<line x1="130.50" y1="314.90" x2="145.80" y2="314.90" stroke="#d88aa8" stroke-width="0.5"/>
<circle cx="138.40" cy="314.90" r="1.3" fill="#8c1042"/>
<line x1="148.50" y1="327.20" x2="164.80" y2="327.20" stroke="#f6b3d0" stroke-width="2.0"/>
<line x1="148.50" y1="327.20" x2="164.80" y2="327.20" stroke="#d88aa8" stroke-width="0.5"/>
<circle cx="157.00" cy="327.20" r="1.3" fill="#8c1042"/>
<line x1="157.40" y1="336.40" x2="164.40" y2="336.40" stroke="#f6b3d0" stroke-width="2.0"/>
<line x1="157.40" y1="336.40" x2="164.40" y2="336.40" stroke="#d88aa8" stroke-width="0.5"/>
<circle cx="160.80" cy="336.40" r="1.3" fill="#8c1042"/>
<line x1="155.30" y1="345.50" x2="167.60" y2="345.50" stroke="#f6b3d0" stroke-width="2.0"/>
<line x1="155.30" y1="345.50" x2="167.60" y2="345.50" stroke="#d88aa8" stroke-width="0.5"/>
<circle cx="161.60" cy="345.50" r="1.3" fill="#8c1042"/>
<line x1="156.80" y1="354.60" x2="180.70" y2="354.60" stroke="#f6b3d0" stroke-width="2.0"/>
<line x1="156.80" y1="354.60" x2="180.70" y2="354.60" stroke="#d88aa8" stroke-width="0.5"/>
<circle cx="168.60" cy="354.60" r="1.3" fill="#8c1042"/>
<line x1="151.00" y1="363.90" x2="190.80" y2="363.90" stroke="#f6b3d0" stroke-width="2.0"/>
<line x1="151.00" y1="363.90" x2="190.80" y2="363.90" stroke="#d88aa8" stroke-width="0.5"/>
<circle cx="170.50" cy="363.90" r="1.3" fill="#8c1042"/>
<line x1="148.50" y1="375.10" x2="164.80" y2="375.10" stroke="#f6b3d0" stroke-width="2.0"/>
<line x1="148.50" y1="375.10" x2="164.80" y2="375.10" stroke="#d88aa8" stroke-width="0.5"/>
<circle cx="156.80" cy="375.10" r="1.3" fill="#8c1042"/>
<rect x="205.00" y="239.00" width="109.80" height="140.90" fill="#fff" stroke="#4a4a4a" stroke-width="0.9"/>
<line x1="205.00" y1="249.20" x2="314.80" y2="249.20" stroke="#8a8a8a" stroke-width="2.0"/>
<line x1="205.00" y1="259.80" x2="314.80" y2="259.80" stroke="#8a8a8a" stroke-width="2.0"/>
<line x1="205.00" y1="270.50" x2="314.80" y2="270.50" stroke="#8a8a8a" stroke-width="2.0"/>
<line x1="205.00" y1="290.70" x2="314.80" y2="290.70" stroke="#8a8a8a" stroke-width="2.0"/>
<line x1="205.00" y1="320.80" x2="314.80" y2="320.80" stroke="#8a8a8a" stroke-width="2.0"/>
<line x1="205.00" y1="369.80" x2="314.80" y2="369.80" stroke="#8a8a8a" stroke-width="2.0"/>
<line x1="260.20" y1="239.00" x2="260.20" y2="379.90" stroke="#6a6a6a" stroke-width="0.9" stroke-dasharray="3 2.4"/>
<line x1="210.20" y1="379.90" x2="210.20" y2="383.10" stroke="#4a4a4a" stroke-width="0.8"/>
<text x="210.20" y="392.55" font-size="8.2" fill="#3a3a3a" stroke="#3a3a3a" stroke-width="0.22" text-anchor="middle">−2</text>
<line x1="235.20" y1="379.90" x2="235.20" y2="383.10" stroke="#4a4a4a" stroke-width="0.8"/>
<text x="235.20" y="392.55" font-size="8.2" fill="#3a3a3a" stroke="#3a3a3a" stroke-width="0.22" text-anchor="middle">−1</text>
<line x1="260.20" y1="379.90" x2="260.20" y2="383.10" stroke="#4a4a4a" stroke-width="0.8"/>
<text x="260.20" y="392.55" font-size="8.2" fill="#3a3a3a" stroke="#3a3a3a" stroke-width="0.22" text-anchor="middle">0</text>
<line x1="285.20" y1="379.90" x2="285.20" y2="383.10" stroke="#4a4a4a" stroke-width="0.8"/>
<text x="285.20" y="392.55" font-size="8.2" fill="#3a3a3a" stroke="#3a3a3a" stroke-width="0.22" text-anchor="middle">1</text>
<line x1="310.20" y1="379.90" x2="310.20" y2="383.10" stroke="#4a4a4a" stroke-width="0.8"/>
<text x="310.20" y="392.55" font-size="8.2" fill="#3a3a3a" stroke="#3a3a3a" stroke-width="0.22" text-anchor="middle">2</text>
<text x="259.90" y="405.90" font-size="8.6" fill="#3a3a3a" stroke="#3a3a3a" stroke-width="0.22" text-anchor="middle" textLength="62.80" lengthAdjust="spacingAndGlyphs">MPV effect size (SD)</text>
<line x1="257.20" y1="243.40" x2="281.90" y2="243.40" stroke="#f6b3d0" stroke-width="2.0"/>
<line x1="257.20" y1="243.40" x2="281.90" y2="243.40" stroke="#d88aa8" stroke-width="0.5"/>
<circle cx="269.20" cy="243.40" r="1.3" fill="#8c1042"/>
<line x1="274.30" y1="254.00" x2="281.20" y2="254.00" stroke="#f6b3d0" stroke-width="2.0"/>
<line x1="274.30" y1="254.00" x2="281.20" y2="254.00" stroke="#d88aa8" stroke-width="0.5"/>
<circle cx="277.30" cy="254.00" r="1.3" fill="#8c1042"/>
<line x1="220.80" y1="264.80" x2="257.20" y2="264.80" stroke="#f6b3d0" stroke-width="2.0"/>
<line x1="220.80" y1="264.80" x2="257.20" y2="264.80" stroke="#d88aa8" stroke-width="0.5"/>
<circle cx="239.20" cy="264.80" r="1.3" fill="#8c1042"/>
<line x1="243.80" y1="276.30" x2="287.70" y2="276.30" stroke="#f6b3d0" stroke-width="2.0"/>
<line x1="243.80" y1="276.30" x2="287.70" y2="276.30" stroke="#d88aa8" stroke-width="0.5"/>
<circle cx="265.80" cy="276.30" r="1.3" fill="#8c1042"/>
<line x1="252.60" y1="286.00" x2="276.20" y2="286.00" stroke="#f6b3d0" stroke-width="2.0"/>
<line x1="252.60" y1="286.00" x2="276.20" y2="286.00" stroke="#d88aa8" stroke-width="0.5"/>
<circle cx="264.20" cy="286.00" r="1.3" fill="#8c1042"/>
<line x1="260.50" y1="296.50" x2="300.40" y2="296.50" stroke="#f6b3d0" stroke-width="2.0"/>
<line x1="260.50" y1="296.50" x2="300.40" y2="296.50" stroke="#d88aa8" stroke-width="0.5"/>
<circle cx="280.80" cy="296.50" r="1.3" fill="#8c1042"/>
<line x1="259.50" y1="305.70" x2="283.50" y2="305.70" stroke="#f6b3d0" stroke-width="2.0"/>
<line x1="259.50" y1="305.70" x2="283.50" y2="305.70" stroke="#d88aa8" stroke-width="0.5"/>
<circle cx="271.10" cy="305.70" r="1.3" fill="#8c1042"/>
<line x1="260.50" y1="314.90" x2="278.50" y2="314.90" stroke="#f6b3d0" stroke-width="2.0"/>
<line x1="260.50" y1="314.90" x2="278.50" y2="314.90" stroke="#d88aa8" stroke-width="0.5"/>
<circle cx="270.00" cy="314.90" r="1.3" fill="#8c1042"/>
<line x1="248.90" y1="327.20" x2="266.50" y2="327.20" stroke="#f6b3d0" stroke-width="2.0"/>
<line x1="248.90" y1="327.20" x2="266.50" y2="327.20" stroke="#d88aa8" stroke-width="0.5"/>
<circle cx="257.70" cy="327.20" r="1.3" fill="#8c1042"/>
<line x1="253.50" y1="336.40" x2="260.90" y2="336.40" stroke="#f6b3d0" stroke-width="2.0"/>
<line x1="253.50" y1="336.40" x2="260.90" y2="336.40" stroke="#d88aa8" stroke-width="0.5"/>
<circle cx="257.20" cy="336.40" r="1.3" fill="#8c1042"/>
<line x1="246.60" y1="345.50" x2="260.50" y2="345.50" stroke="#f6b3d0" stroke-width="2.0"/>
<line x1="246.60" y1="345.50" x2="260.50" y2="345.50" stroke="#d88aa8" stroke-width="0.5"/>
<circle cx="253.10" cy="345.50" r="1.3" fill="#8c1042"/>
<line x1="236.50" y1="354.60" x2="262.30" y2="354.60" stroke="#f6b3d0" stroke-width="2.0"/>
<line x1="236.50" y1="354.60" x2="262.30" y2="354.60" stroke="#d88aa8" stroke-width="0.5"/>
<circle cx="248.90" cy="354.60" r="1.3" fill="#8c1042"/>
<line x1="230.00" y1="363.90" x2="273.80" y2="363.90" stroke="#f6b3d0" stroke-width="2.0"/>
<line x1="230.00" y1="363.90" x2="273.80" y2="363.90" stroke="#d88aa8" stroke-width="0.5"/>
<circle cx="251.90" cy="363.90" r="1.3" fill="#8c1042"/>
<line x1="241.50" y1="375.10" x2="259.50" y2="375.10" stroke="#f6b3d0" stroke-width="2.0"/>
<line x1="241.50" y1="375.10" x2="259.50" y2="375.10" stroke="#d88aa8" stroke-width="0.5"/>
<circle cx="250.30" cy="375.10" r="1.3" fill="#8c1042"/>
<line x1="94.30" y1="243.40" x2="97.50" y2="243.40" stroke="#4a4a4a" stroke-width="0.8"/>
<line x1="94.30" y1="254.00" x2="97.50" y2="254.00" stroke="#4a4a4a" stroke-width="0.8"/>
<line x1="94.30" y1="264.80" x2="97.50" y2="264.80" stroke="#4a4a4a" stroke-width="0.8"/>
<line x1="94.30" y1="276.30" x2="97.50" y2="276.30" stroke="#4a4a4a" stroke-width="0.8"/>
<line x1="94.30" y1="286.00" x2="97.50" y2="286.00" stroke="#4a4a4a" stroke-width="0.8"/>
<line x1="94.30" y1="296.50" x2="97.50" y2="296.50" stroke="#4a4a4a" stroke-width="0.8"/>
<line x1="94.30" y1="305.70" x2="97.50" y2="305.70" stroke="#4a4a4a" stroke-width="0.8"/>
<line x1="94.30" y1="314.90" x2="97.50" y2="314.90" stroke="#4a4a4a" stroke-width="0.8"/>
<line x1="94.30" y1="327.20" x2="97.50" y2="327.20" stroke="#4a4a4a" stroke-width="0.8"/>
<line x1="94.30" y1="336.40" x2="97.50" y2="336.40" stroke="#4a4a4a" stroke-width="0.8"/>
<line x1="94.30" y1="345.50" x2="97.50" y2="345.50" stroke="#4a4a4a" stroke-width="0.8"/>
<line x1="94.30" y1="354.60" x2="97.50" y2="354.60" stroke="#4a4a4a" stroke-width="0.8"/>
<line x1="94.30" y1="363.90" x2="97.50" y2="363.90" stroke="#4a4a4a" stroke-width="0.8"/>
<line x1="94.30" y1="375.10" x2="97.50" y2="375.10" stroke="#4a4a4a" stroke-width="0.8"/>
<text x="91.90" y="245.60" font-size="6.1" fill="#333333" stroke="#333333" stroke-width="0.1" text-anchor="end" textLength="35.55" lengthAdjust="spacingAndGlyphs">p.Arg412Ter</text>
<text x="91.90" y="256.20" font-size="6.1" fill="#333333" stroke="#333333" stroke-width="0.1" text-anchor="end" textLength="34.11" lengthAdjust="spacingAndGlyphs">p.Asn61Ser</text>
<text x="91.90" y="267.00" font-size="6.1" fill="#333333" stroke="#333333" stroke-width="0.1" text-anchor="end" textLength="58.52" lengthAdjust="spacingAndGlyphs">p.Cys993TrpfsTer16</text>
<text x="91.90" y="288.20" font-size="6.1" fill="#333333" stroke="#333333" stroke-width="0.1" text-anchor="end" textLength="33.01" lengthAdjust="spacingAndGlyphs">p.Ile596Thr</text>
<text x="91.90" y="298.70" font-size="6.1" fill="#333333" stroke="#333333" stroke-width="0.1" text-anchor="end" textLength="34.10" lengthAdjust="spacingAndGlyphs">p.Arg63Cys</text>
<text x="91.90" y="307.90" font-size="6.1" fill="#333333" stroke="#333333" stroke-width="0.1" text-anchor="end" textLength="36.65" lengthAdjust="spacingAndGlyphs">p.Pro189Ser</text>
<text x="91.90" y="317.10" font-size="6.1" fill="#333333" stroke="#333333" stroke-width="0.1" text-anchor="end" textLength="37.73" lengthAdjust="spacingAndGlyphs">p.Arg662Cys</text>
<text x="91.90" y="329.40" font-size="6.1" fill="#333333" stroke="#333333" stroke-width="0.1" text-anchor="end" textLength="37.73" lengthAdjust="spacingAndGlyphs">p.Arg257Cys</text>
<text x="91.90" y="338.60" font-size="6.1" fill="#333333" stroke="#333333" stroke-width="0.1" text-anchor="end" textLength="36.65" lengthAdjust="spacingAndGlyphs">p.Arg102Pro</text>
<text x="91.90" y="347.70" font-size="6.1" fill="#333333" stroke="#333333" stroke-width="0.1" text-anchor="end" textLength="56.61" lengthAdjust="spacingAndGlyphs">p.Phe126LeufsTer5</text>
<text x="91.90" y="356.80" font-size="6.1" fill="#333333" stroke="#333333" stroke-width="0.1" text-anchor="end" textLength="34.95" lengthAdjust="spacingAndGlyphs">p.Trp474Ter</text>
<text x="91.90" y="366.10" font-size="6.1" fill="#333333" stroke="#333333" stroke-width="0.1" text-anchor="end" textLength="37.38" lengthAdjust="spacingAndGlyphs">p.981−1G&gt;C</text>
<text x="91.90" y="377.30" font-size="6.1" fill="#333333" stroke="#333333" stroke-width="0.1" text-anchor="end" textLength="33.75" lengthAdjust="spacingAndGlyphs">p.Leu82Pro</text>
<text x="30.80" y="245.63" font-size="6.2" fill="#333333" stroke="#333333" stroke-width="0.1" text-anchor="end" font-style="italic">ABCG8</text>
<line x1="33.70" y1="239.90" x2="33.70" y2="248.30" stroke="#9a9a9a" stroke-width="1.0"/>
<text x="30.80" y="256.23" font-size="6.2" fill="#333333" stroke="#333333" stroke-width="0.1" text-anchor="end" font-style="italic">GP9</text>
<line x1="33.70" y1="250.10" x2="33.70" y2="258.90" stroke="#9a9a9a" stroke-width="1.0"/>
<text x="30.80" y="267.03" font-size="6.2" fill="#333333" stroke="#333333" stroke-width="0.1" text-anchor="end" font-style="italic">HPS5</text>
<line x1="33.70" y1="260.70" x2="33.70" y2="269.60" stroke="#9a9a9a" stroke-width="1.0"/>
<text x="30.80" y="283.38" font-size="6.2" fill="#333333" stroke="#333333" stroke-width="0.1" text-anchor="end" font-style="italic">ITGA2B</text>
<line x1="33.70" y1="271.40" x2="33.70" y2="289.80" stroke="#9a9a9a" stroke-width="1.0"/>
<text x="30.80" y="307.93" font-size="6.2" fill="#333333" stroke="#333333" stroke-width="0.1" text-anchor="end" font-style="italic">ITGB3</text>
<line x1="33.70" y1="291.60" x2="33.70" y2="319.90" stroke="#9a9a9a" stroke-width="1.0"/>
<text x="30.80" y="347.78" font-size="6.2" fill="#333333" stroke="#333333" stroke-width="0.1" text-anchor="end" font-style="italic">MPL</text>
<line x1="33.70" y1="321.70" x2="33.70" y2="368.90" stroke="#9a9a9a" stroke-width="1.0"/>
<text x="30.80" y="377.33" font-size="6.2" fill="#333333" stroke="#333333" stroke-width="0.1" text-anchor="end" font-style="italic">TBXAS1</text>
<line x1="33.70" y1="370.70" x2="33.70" y2="379.00" stroke="#9a9a9a" stroke-width="1.0"/>
<text x="91.90" y="273.80" font-size="6.1" fill="#333333" stroke="#333333" stroke-width="0.1" text-anchor="end" textLength="48.81" lengthAdjust="spacingAndGlyphs">c.1440−13_1440</text>
<text x="91.90" y="282.00" font-size="6.1" fill="#333333" stroke="#333333" stroke-width="0.1" text-anchor="end" textLength="16.15" lengthAdjust="spacingAndGlyphs">−1del</text>
<text x="122.70" y="421.89" font-size="7.2" fill="#3a3a3a" stroke="#3a3a3a" stroke-width="0.22" textLength="45.20" lengthAdjust="spacingAndGlyphs">MDT decision</text>
<circle cx="176.50" cy="419.30" r="2.0" fill="#111"/>
<text x="182.70" y="421.89" font-size="7.2" fill="#3a3a3a" stroke="#3a3a3a" stroke-width="0.22" textLength="22.90" lengthAdjust="spacingAndGlyphs">Accept</text>
<rect x="212.40" y="417.50" width="3.60" height="3.60" fill="#111" stroke="none" stroke-width="0.8"/>
<text x="220.20" y="421.89" font-size="7.2" fill="#3a3a3a" stroke="#3a3a3a" stroke-width="0.22" textLength="21.00" lengthAdjust="spacingAndGlyphs">Reject</text>
<path d="M247.6,421.20 L252.4,421.20 L250,417.00 Z" fill="#111"/>
<text x="256.90" y="421.89" font-size="7.2" fill="#3a3a3a" stroke="#3a3a3a" stroke-width="0.22" textLength="35.90" lengthAdjust="spacingAndGlyphs">Undecided</text>
<text x="320.90" y="230.50" font-size="13.2" font-weight="bold" fill="#111" textLength="8.52" lengthAdjust="spacingAndGlyphs">D</text>
<rect x="356.50" y="239.50" width="156.70" height="140.30" fill="none" stroke="#4a4a4a" stroke-width="0.9"/>
<line x1="353.00" y1="373.30" x2="356.50" y2="373.30" stroke="#4a4a4a" stroke-width="0.8"/>
<text x="350.80" y="376.18" font-size="8.0" fill="#3a3a3a" stroke="#3a3a3a" stroke-width="0.22" text-anchor="end">0</text>
<line x1="353.00" y1="351.95" x2="356.50" y2="351.95" stroke="#4a4a4a" stroke-width="0.8"/>
<text x="350.80" y="354.83" font-size="8.0" fill="#3a3a3a" stroke="#3a3a3a" stroke-width="0.22" text-anchor="end">100</text>
<line x1="353.00" y1="330.60" x2="356.50" y2="330.60" stroke="#4a4a4a" stroke-width="0.8"/>
<text x="350.80" y="333.48" font-size="8.0" fill="#3a3a3a" stroke="#3a3a3a" stroke-width="0.22" text-anchor="end">200</text>
<line x1="353.00" y1="309.25" x2="356.50" y2="309.25" stroke="#4a4a4a" stroke-width="0.8"/>
<text x="350.80" y="312.13" font-size="8.0" fill="#3a3a3a" stroke="#3a3a3a" stroke-width="0.22" text-anchor="end">300</text>
<line x1="353.00" y1="287.90" x2="356.50" y2="287.90" stroke="#4a4a4a" stroke-width="0.8"/>
<text x="350.80" y="290.78" font-size="8.0" fill="#3a3a3a" stroke="#3a3a3a" stroke-width="0.22" text-anchor="end">400</text>
<line x1="353.00" y1="266.55" x2="356.50" y2="266.55" stroke="#4a4a4a" stroke-width="0.8"/>
<text x="350.80" y="269.43" font-size="8.0" fill="#3a3a3a" stroke="#3a3a3a" stroke-width="0.22" text-anchor="end">500</text>
<line x1="353.00" y1="245.20" x2="356.50" y2="245.20" stroke="#4a4a4a" stroke-width="0.8"/>
<text x="350.80" y="248.08" font-size="8.0" fill="#3a3a3a" stroke="#3a3a3a" stroke-width="0.22" text-anchor="end">600</text>
<line x1="356.50" y1="277.23" x2="513.20" y2="277.23" stroke="#333" stroke-width="0.8" stroke-dasharray="1.6 1.4"/>
<line x1="356.50" y1="341.28" x2="513.20" y2="341.28" stroke="#333" stroke-width="0.8" stroke-dasharray="1.6 1.4"/>
<g transform="translate(331.2,309.5) rotate(-90)">
<text x="0" y="0" font-size="7.9" fill="#3a3a3a" stroke="#3a3a3a" stroke-width="0.2" text-anchor="middle">Platelet count x 10<tspan font-size="5" dy="-3">9</tspan><tspan dy="3">/L</tspan></text>
</g>
<clipPath id="dclip"><rect x="320" y="380" width="200" height="49"/></clipPath><g clip-path="url(#dclip)">
<g transform="translate(368.30,387.80) rotate(-45)">
<text x="0" y="0" font-size="8.0" fill="#3a3a3a" stroke="#3a3a3a" stroke-width="0.2" text-anchor="end">Controls</text>
<text x="0" y="9.4" font-size="8.0" fill="#3a3a3a" stroke="#3a3a3a" stroke-width="0.2" text-anchor="end">n = 482910</text>
</g>
<g transform="translate(392.50,387.80) rotate(-45)">
<text x="0" y="0" font-size="8.0" fill="#3a3a3a" stroke="#3a3a3a" stroke-width="0.2" text-anchor="end">p.Arg257Cys</text>
<text x="0" y="9.4" font-size="8.0" fill="#3a3a3a" stroke="#3a3a3a" stroke-width="0.2" text-anchor="end">n = 32</text>
</g>
<g transform="translate(417.10,387.80) rotate(-45)">
<text x="0" y="0" font-size="8.0" fill="#3a3a3a" stroke="#3a3a3a" stroke-width="0.2" text-anchor="end">p.Arg102Pro</text>
<text x="0" y="9.4" font-size="8.0" fill="#3a3a3a" stroke="#3a3a3a" stroke-width="0.2" text-anchor="end">n = 127</text>
</g>
<g transform="translate(441.30,387.80) rotate(-45)">
<text x="0" y="0" font-size="8.0" fill="#3a3a3a" stroke="#3a3a3a" stroke-width="0.2" text-anchor="end">p.Phe126LeufsTer5</text>
<text x="0" y="9.4" font-size="8.0" fill="#3a3a3a" stroke="#3a3a3a" stroke-width="0.2" text-anchor="end">n = 53</text>
</g>
<g transform="translate(464.70,387.80) rotate(-45)">
<text x="0" y="0" font-size="8.0" fill="#3a3a3a" stroke="#3a3a3a" stroke-width="0.2" text-anchor="end">p.Trp474Ter</text>
<text x="0" y="9.4" font-size="8.0" fill="#3a3a3a" stroke="#3a3a3a" stroke-width="0.2" text-anchor="end">n = 14</text>
</g>
<g transform="translate(487.50,387.80) rotate(-45)">
<text x="0" y="0" font-size="8.0" fill="#3a3a3a" stroke="#3a3a3a" stroke-width="0.2" text-anchor="end">c.981−1G&gt;C</text>
<text x="0" y="9.4" font-size="8.0" fill="#3a3a3a" stroke="#3a3a3a" stroke-width="0.2" text-anchor="end">n = 5</text>
</g>
<g transform="translate(510.20,387.80) rotate(-45)">
<text x="0" y="0" font-size="8.0" fill="#3a3a3a" stroke="#3a3a3a" stroke-width="0.2" text-anchor="end">CAMT</text>
<text x="0" y="9.4" font-size="8.0" fill="#3a3a3a" stroke="#3a3a3a" stroke-width="0.2" text-anchor="end">n = 3</text>
</g>
</g>
<path d="M369.88,373.30 L369.80,347.68 L369.40,341.28 L368.40,335.94 L367.40,331.67 L366.40,326.33 L365.80,319.93 L366.20,314.59 L367.00,309.25 L368.00,304.98 L368.80,299.64 L369.30,294.31 L369.70,287.90 L369.88,245.20 L370.12,245.20 L370.30,287.90 L370.70,294.31 L371.20,299.64 L372.00,304.98 L373.00,309.25 L373.80,314.59 L374.20,319.93 L373.60,326.33 L372.60,331.67 L371.60,335.94 L370.60,341.28 L370.20,347.68 L370.12,373.30 Z" fill="none" stroke="#111111" stroke-width="0.45" stroke-linejoin="round"/>
<rect x="368.00" y="312.03" width="4.00" height="15.16" fill="none" stroke="#111111" stroke-width="0.6"/>
<line x1="368.00" y1="319.93" x2="372.00" y2="319.93" stroke="#111111" stroke-width="0.6"/>
<path d="M390.60,341.92 L390.30,339.14 L389.50,333.80 L388.80,329.53 L387.80,324.19 L386.60,317.79 L385.80,311.38 L386.20,307.12 L387.40,302.85 L388.80,298.58 L389.80,296.44 L391.80,296.44 L392.80,298.58 L394.20,302.85 L395.40,307.12 L395.80,311.38 L395.00,317.79 L393.80,324.19 L392.80,329.53 L392.10,333.80 L391.30,339.14 L391.00,341.92 Z" fill="none" stroke="#56286e" stroke-width="0.6" stroke-linejoin="round"/>
<circle cx="393.16" cy="326.10" r="0.7" fill="#3a1050"/>
<circle cx="394.34" cy="325.78" r="0.7" fill="#3a1050"/>
<circle cx="387.03" cy="315.05" r="0.7" fill="#3a1050"/>
<circle cx="390.52" cy="337.60" r="0.7" fill="#3a1050"/>
<circle cx="394.01" cy="299.04" r="0.7" fill="#3a1050"/>
<circle cx="387.71" cy="318.90" r="0.7" fill="#3a1050"/>
<circle cx="391.15" cy="321.40" r="0.7" fill="#3a1050"/>
<circle cx="391.39" cy="311.97" r="0.7" fill="#3a1050"/>
<circle cx="389.04" cy="306.08" r="0.7" fill="#3a1050"/>
<circle cx="394.13" cy="312.91" r="0.7" fill="#3a1050"/>
<circle cx="393.18" cy="312.90" r="0.7" fill="#3a1050"/>
<circle cx="387.91" cy="319.78" r="0.7" fill="#3a1050"/>
<circle cx="386.81" cy="317.63" r="0.7" fill="#3a1050"/>
<circle cx="393.77" cy="317.26" r="0.7" fill="#3a1050"/>
<circle cx="394.66" cy="311.65" r="0.7" fill="#3a1050"/>
<circle cx="393.78" cy="306.32" r="0.7" fill="#3a1050"/>
<circle cx="391.11" cy="320.18" r="0.7" fill="#3a1050"/>
<circle cx="392.22" cy="296.87" r="0.7" fill="#3a1050"/>
<circle cx="392.33" cy="306.40" r="0.7" fill="#3a1050"/>
<circle cx="394.53" cy="296.87" r="0.7" fill="#3a1050"/>
<circle cx="389.69" cy="306.46" r="0.7" fill="#3a1050"/>
<circle cx="388.13" cy="319.09" r="0.7" fill="#3a1050"/>
<circle cx="389.21" cy="311.13" r="0.7" fill="#3a1050"/>
<circle cx="391.62" cy="310.41" r="0.7" fill="#3a1050"/>
<circle cx="389.50" cy="297.45" r="0.7" fill="#3a1050"/>
<circle cx="389.28" cy="313.18" r="0.7" fill="#3a1050"/>
<circle cx="389.33" cy="308.42" r="0.7" fill="#3a1050"/>
<circle cx="390.65" cy="324.63" r="0.7" fill="#3a1050"/>
<circle cx="394.60" cy="314.55" r="0.7" fill="#3a1050"/>
<circle cx="386.98" cy="317.03" r="0.7" fill="#3a1050"/>
<circle cx="386.94" cy="313.55" r="0.7" fill="#3a1050"/>
<circle cx="393.10" cy="334.13" r="0.7" fill="#3a1050"/>
<rect x="388.80" y="309.68" width="4.00" height="11.96" fill="#fff" stroke="#56286e" stroke-width="0.7"/>
<line x1="388.80" y1="312.03" x2="392.80" y2="312.03" stroke="#56286e" stroke-width="0.7"/>
<line x1="390.80" y1="341.92" x2="390.80" y2="321.63" stroke="#56286e" stroke-width="0.6"/>
<line x1="390.80" y1="309.68" x2="390.80" y2="296.44" stroke="#56286e" stroke-width="0.6"/>
<path d="M412.90,337.22 L411.20,334.87 L409.80,330.60 L409.00,324.19 L409.20,317.79 L410.00,309.25 L410.80,302.85 L411.60,296.44 L412.20,290.04 L412.60,283.63 L412.80,270.82 L412.90,253.31 L413.50,253.31 L413.60,270.82 L413.80,283.63 L414.20,290.04 L414.80,296.44 L415.60,302.85 L416.40,309.25 L417.20,317.79 L417.40,324.19 L416.60,330.60 L415.20,334.87 L413.50,337.22 Z" fill="none" stroke="#56286e" stroke-width="0.7" stroke-linejoin="round"/>
<circle cx="408.68" cy="324.75" r="0.7" fill="#3a1050"/>
<circle cx="409.03" cy="300.97" r="0.7" fill="#3a1050"/>
<circle cx="410.41" cy="300.10" r="0.7" fill="#3a1050"/>
<circle cx="415.55" cy="284.56" r="0.7" fill="#3a1050"/>
<circle cx="411.77" cy="285.88" r="0.7" fill="#3a1050"/>
<circle cx="411.86" cy="326.60" r="0.7" fill="#3a1050"/>
<circle cx="409.59" cy="335.40" r="0.7" fill="#3a1050"/>
<circle cx="415.49" cy="316.94" r="0.7" fill="#3a1050"/>
<circle cx="408.94" cy="306.10" r="0.7" fill="#3a1050"/>
<circle cx="417.30" cy="336.58" r="0.7" fill="#3a1050"/>
<circle cx="414.22" cy="303.69" r="0.7" fill="#3a1050"/>
<circle cx="417.05" cy="307.18" r="0.7" fill="#3a1050"/>
<circle cx="413.62" cy="329.10" r="0.7" fill="#3a1050"/>
<circle cx="411.47" cy="288.95" r="0.7" fill="#3a1050"/>
<circle cx="409.32" cy="316.78" r="0.7" fill="#3a1050"/>
<circle cx="409.97" cy="306.21" r="0.7" fill="#3a1050"/>
<circle cx="410.09" cy="329.68" r="0.7" fill="#3a1050"/>
<circle cx="409.05" cy="336.58" r="0.7" fill="#3a1050"/>
<circle cx="412.33" cy="297.76" r="0.7" fill="#3a1050"/>
<circle cx="410.78" cy="314.84" r="0.7" fill="#3a1050"/>
<circle cx="412.79" cy="333.43" r="0.7" fill="#3a1050"/>
<circle cx="412.48" cy="326.86" r="0.7" fill="#3a1050"/>
<circle cx="408.90" cy="286.73" r="0.7" fill="#3a1050"/>
<circle cx="413.14" cy="303.74" r="0.7" fill="#3a1050"/>
<circle cx="415.33" cy="309.95" r="0.7" fill="#3a1050"/>
<circle cx="417.34" cy="319.28" r="0.7" fill="#3a1050"/>
<circle cx="409.58" cy="328.92" r="0.7" fill="#3a1050"/>
<circle cx="412.60" cy="330.01" r="0.7" fill="#3a1050"/>
<circle cx="411.31" cy="298.89" r="0.7" fill="#3a1050"/>
<circle cx="412.77" cy="293.59" r="0.7" fill="#3a1050"/>
<circle cx="417.58" cy="288.47" r="0.7" fill="#3a1050"/>
<circle cx="412.77" cy="313.63" r="0.7" fill="#3a1050"/>
<circle cx="413.01" cy="334.18" r="0.7" fill="#3a1050"/>
<circle cx="411.28" cy="311.98" r="0.7" fill="#3a1050"/>
<circle cx="412.07" cy="319.45" r="0.7" fill="#3a1050"/>
<circle cx="417.69" cy="309.42" r="0.7" fill="#3a1050"/>
<circle cx="413.19" cy="296.10" r="0.7" fill="#3a1050"/>
<circle cx="411.71" cy="318.01" r="0.7" fill="#3a1050"/>
<circle cx="415.79" cy="304.87" r="0.7" fill="#3a1050"/>
<circle cx="416.58" cy="308.09" r="0.7" fill="#3a1050"/>
<circle cx="415.73" cy="328.00" r="0.7" fill="#3a1050"/>
<circle cx="414.99" cy="296.31" r="0.7" fill="#3a1050"/>
<circle cx="411.94" cy="324.65" r="0.7" fill="#3a1050"/>
<circle cx="415.08" cy="332.07" r="0.7" fill="#3a1050"/>
<circle cx="415.68" cy="316.37" r="0.7" fill="#3a1050"/>
<circle cx="414.96" cy="299.02" r="0.7" fill="#3a1050"/>
<circle cx="414.58" cy="321.93" r="0.7" fill="#3a1050"/>
<circle cx="413.94" cy="283.78" r="0.7" fill="#3a1050"/>
<circle cx="410.91" cy="297.44" r="0.7" fill="#3a1050"/>
<circle cx="414.78" cy="312.35" r="0.7" fill="#3a1050"/>
<circle cx="414.56" cy="336.48" r="0.7" fill="#3a1050"/>
<circle cx="415.94" cy="308.07" r="0.7" fill="#3a1050"/>
<circle cx="415.39" cy="324.14" r="0.7" fill="#3a1050"/>
<circle cx="416.22" cy="298.48" r="0.7" fill="#3a1050"/>
<circle cx="416.60" cy="328.01" r="0.7" fill="#3a1050"/>
<circle cx="414.93" cy="293.59" r="0.7" fill="#3a1050"/>
<circle cx="413.37" cy="281.80" r="0.7" fill="#3a1050"/>
<circle cx="413.47" cy="318.31" r="0.7" fill="#3a1050"/>
<circle cx="417.22" cy="301.26" r="0.7" fill="#3a1050"/>
<circle cx="412.99" cy="292.44" r="0.7" fill="#3a1050"/>
<circle cx="415.32" cy="320.87" r="0.7" fill="#3a1050"/>
<circle cx="410.18" cy="332.58" r="0.7" fill="#3a1050"/>
<circle cx="414.72" cy="310.32" r="0.7" fill="#3a1050"/>
<circle cx="412.47" cy="330.11" r="0.7" fill="#3a1050"/>
<circle cx="414.46" cy="329.28" r="0.7" fill="#3a1050"/>
<circle cx="415.23" cy="329.03" r="0.7" fill="#3a1050"/>
<circle cx="412.66" cy="306.07" r="0.7" fill="#3a1050"/>
<circle cx="414.58" cy="312.21" r="0.7" fill="#3a1050"/>
<circle cx="414.40" cy="309.75" r="0.7" fill="#3a1050"/>
<circle cx="408.99" cy="294.39" r="0.7" fill="#3a1050"/>
<circle cx="409.10" cy="322.55" r="0.7" fill="#3a1050"/>
<circle cx="409.83" cy="311.89" r="0.7" fill="#3a1050"/>
<circle cx="410.38" cy="316.85" r="0.7" fill="#3a1050"/>
<circle cx="408.93" cy="306.13" r="0.7" fill="#3a1050"/>
<circle cx="414.23" cy="325.76" r="0.7" fill="#3a1050"/>
<circle cx="414.03" cy="310.81" r="0.7" fill="#3a1050"/>
<circle cx="408.61" cy="311.41" r="0.7" fill="#3a1050"/>
<circle cx="412.33" cy="285.92" r="0.7" fill="#3a1050"/>
<circle cx="409.66" cy="315.87" r="0.7" fill="#3a1050"/>
<circle cx="416.25" cy="300.57" r="0.7" fill="#3a1050"/>
<circle cx="414.24" cy="315.96" r="0.7" fill="#3a1050"/>
<circle cx="409.47" cy="311.05" r="0.7" fill="#3a1050"/>
<circle cx="413.94" cy="324.72" r="0.7" fill="#3a1050"/>
<circle cx="417.42" cy="316.79" r="0.7" fill="#3a1050"/>
<circle cx="416.08" cy="307.95" r="0.7" fill="#3a1050"/>
<circle cx="414.51" cy="325.65" r="0.7" fill="#3a1050"/>
<circle cx="414.08" cy="318.36" r="0.7" fill="#3a1050"/>
<circle cx="413.79" cy="308.33" r="0.7" fill="#3a1050"/>
<circle cx="414.20" cy="281.12" r="0.7" fill="#3a1050"/>
<circle cx="411.83" cy="322.45" r="0.7" fill="#3a1050"/>
<circle cx="409.59" cy="313.08" r="0.7" fill="#3a1050"/>
<circle cx="413.81" cy="313.87" r="0.7" fill="#3a1050"/>
<circle cx="414.39" cy="318.81" r="0.7" fill="#3a1050"/>
<circle cx="416.80" cy="318.19" r="0.7" fill="#3a1050"/>
<circle cx="410.68" cy="323.20" r="0.7" fill="#3a1050"/>
<circle cx="411.28" cy="303.94" r="0.7" fill="#3a1050"/>
<circle cx="417.44" cy="301.19" r="0.7" fill="#3a1050"/>
<circle cx="417.01" cy="315.68" r="0.7" fill="#3a1050"/>
<circle cx="417.63" cy="321.71" r="0.7" fill="#3a1050"/>
<circle cx="413.17" cy="319.15" r="0.7" fill="#3a1050"/>
<circle cx="417.66" cy="323.21" r="0.7" fill="#3a1050"/>
<circle cx="413.12" cy="307.83" r="0.7" fill="#3a1050"/>
<circle cx="409.72" cy="316.83" r="0.7" fill="#3a1050"/>
<circle cx="414.32" cy="299.32" r="0.7" fill="#3a1050"/>
<circle cx="415.79" cy="323.52" r="0.7" fill="#3a1050"/>
<circle cx="416.21" cy="309.81" r="0.7" fill="#3a1050"/>
<circle cx="411.12" cy="297.78" r="0.7" fill="#3a1050"/>
<circle cx="417.20" cy="312.21" r="0.7" fill="#3a1050"/>
<circle cx="411.06" cy="311.60" r="0.7" fill="#3a1050"/>
<circle cx="410.02" cy="322.95" r="0.7" fill="#3a1050"/>
<circle cx="414.19" cy="302.87" r="0.7" fill="#3a1050"/>
<circle cx="412.97" cy="314.27" r="0.7" fill="#3a1050"/>
<circle cx="415.44" cy="324.22" r="0.7" fill="#3a1050"/>
<circle cx="409.69" cy="327.29" r="0.7" fill="#3a1050"/>
<circle cx="413.51" cy="312.81" r="0.7" fill="#3a1050"/>
<circle cx="411.69" cy="324.33" r="0.7" fill="#3a1050"/>
<circle cx="412.87" cy="318.08" r="0.7" fill="#3a1050"/>
<circle cx="411.92" cy="298.46" r="0.7" fill="#3a1050"/>
<circle cx="408.94" cy="314.06" r="0.7" fill="#3a1050"/>
<circle cx="410.92" cy="330.64" r="0.7" fill="#3a1050"/>
<circle cx="416.77" cy="336.58" r="0.7" fill="#3a1050"/>
<circle cx="413.62" cy="305.66" r="0.7" fill="#3a1050"/>
<circle cx="412.54" cy="291.38" r="0.7" fill="#3a1050"/>
<circle cx="413.90" cy="311.49" r="0.7" fill="#3a1050"/>
<circle cx="413.03" cy="318.23" r="0.7" fill="#3a1050"/>
<circle cx="416.99" cy="331.02" r="0.7" fill="#3a1050"/>
<circle cx="416.44" cy="323.13" r="0.7" fill="#3a1050"/>
<rect x="411.10" y="306.69" width="4.20" height="14.95" fill="#fff" stroke="#56286e" stroke-width="0.7"/>
<line x1="411.10" y1="317.15" x2="415.30" y2="317.15" stroke="#56286e" stroke-width="0.7"/>
<line x1="413.20" y1="306.69" x2="413.20" y2="253.31" stroke="#56286e" stroke-width="0.8"/>
<line x1="413.20" y1="337.22" x2="413.20" y2="321.63" stroke="#56286e" stroke-width="0.6"/>
<path d="M434.30,334.02 L433.00,331.67 L431.80,326.33 L431.20,319.93 L431.30,311.38 L432.00,302.85 L433.00,294.31 L433.70,285.76 L434.10,277.23 L434.30,266.55 L434.90,266.55 L435.10,277.23 L435.50,285.76 L436.20,294.31 L437.20,302.85 L437.90,311.38 L438.00,319.93 L437.40,326.33 L436.20,331.67 L434.90,334.02 Z" fill="none" stroke="#56286e" stroke-width="0.7" stroke-linejoin="round"/>
<circle cx="432.29" cy="304.73" r="0.7" fill="#3a1050"/>
<circle cx="431.30" cy="318.81" r="0.7" fill="#3a1050"/>
<circle cx="437.16" cy="291.28" r="0.7" fill="#3a1050"/>
<circle cx="432.98" cy="316.72" r="0.7" fill="#3a1050"/>
<circle cx="436.73" cy="324.21" r="0.7" fill="#3a1050"/>
<circle cx="434.44" cy="306.94" r="0.7" fill="#3a1050"/>
<circle cx="434.97" cy="315.92" r="0.7" fill="#3a1050"/>
<circle cx="431.97" cy="322.97" r="0.7" fill="#3a1050"/>
<circle cx="435.25" cy="312.30" r="0.7" fill="#3a1050"/>
<circle cx="432.55" cy="310.78" r="0.7" fill="#3a1050"/>
<circle cx="437.03" cy="316.54" r="0.7" fill="#3a1050"/>
<circle cx="430.99" cy="307.96" r="0.7" fill="#3a1050"/>
<circle cx="436.29" cy="329.19" r="0.7" fill="#3a1050"/>
<circle cx="436.13" cy="270.83" r="0.7" fill="#3a1050"/>
<circle cx="431.17" cy="318.06" r="0.7" fill="#3a1050"/>
<circle cx="435.71" cy="307.94" r="0.7" fill="#3a1050"/>
<circle cx="438.04" cy="319.37" r="0.7" fill="#3a1050"/>
<circle cx="433.02" cy="313.93" r="0.7" fill="#3a1050"/>
<circle cx="437.78" cy="318.59" r="0.7" fill="#3a1050"/>
<circle cx="433.95" cy="302.95" r="0.7" fill="#3a1050"/>
<circle cx="432.02" cy="299.42" r="0.7" fill="#3a1050"/>
<circle cx="431.62" cy="314.97" r="0.7" fill="#3a1050"/>
<circle cx="433.68" cy="314.89" r="0.7" fill="#3a1050"/>
<circle cx="435.17" cy="308.82" r="0.7" fill="#3a1050"/>
<circle cx="436.44" cy="310.68" r="0.7" fill="#3a1050"/>
<circle cx="434.08" cy="307.90" r="0.7" fill="#3a1050"/>
<circle cx="433.19" cy="316.81" r="0.7" fill="#3a1050"/>
<circle cx="437.93" cy="323.46" r="0.7" fill="#3a1050"/>
<circle cx="433.64" cy="320.47" r="0.7" fill="#3a1050"/>
<circle cx="431.95" cy="295.40" r="0.7" fill="#3a1050"/>
<circle cx="435.60" cy="306.22" r="0.7" fill="#3a1050"/>
<circle cx="435.02" cy="333.59" r="0.7" fill="#3a1050"/>
<circle cx="435.52" cy="313.40" r="0.7" fill="#3a1050"/>
<circle cx="432.73" cy="313.69" r="0.7" fill="#3a1050"/>
<circle cx="436.50" cy="297.63" r="0.7" fill="#3a1050"/>
<circle cx="432.58" cy="318.71" r="0.7" fill="#3a1050"/>
<circle cx="433.62" cy="313.12" r="0.7" fill="#3a1050"/>
<circle cx="436.22" cy="313.07" r="0.7" fill="#3a1050"/>
<circle cx="435.78" cy="319.81" r="0.7" fill="#3a1050"/>
<circle cx="431.49" cy="297.46" r="0.7" fill="#3a1050"/>
<circle cx="431.75" cy="303.55" r="0.7" fill="#3a1050"/>
<circle cx="437.46" cy="319.65" r="0.7" fill="#3a1050"/>
<circle cx="434.45" cy="317.28" r="0.7" fill="#3a1050"/>
<circle cx="431.02" cy="321.76" r="0.7" fill="#3a1050"/>
<circle cx="436.31" cy="293.68" r="0.7" fill="#3a1050"/>
<circle cx="438.04" cy="306.12" r="0.7" fill="#3a1050"/>
<circle cx="435.98" cy="310.23" r="0.7" fill="#3a1050"/>
<circle cx="438.19" cy="311.47" r="0.7" fill="#3a1050"/>
<circle cx="435.85" cy="306.70" r="0.7" fill="#3a1050"/>
<circle cx="435.55" cy="309.69" r="0.7" fill="#3a1050"/>
<circle cx="433.49" cy="318.27" r="0.7" fill="#3a1050"/>
<circle cx="435.46" cy="311.46" r="0.7" fill="#3a1050"/>
<circle cx="433.45" cy="301.93" r="0.7" fill="#3a1050"/>
<rect x="432.60" y="303.91" width="4.00" height="13.45" fill="#fff" stroke="#56286e" stroke-width="0.7"/>
<line x1="432.60" y1="311.38" x2="436.60" y2="311.38" stroke="#56286e" stroke-width="0.7"/>
<line x1="434.60" y1="303.91" x2="434.60" y2="266.55" stroke="#56286e" stroke-width="0.8"/>
<line x1="434.60" y1="334.02" x2="434.60" y2="317.36" stroke="#56286e" stroke-width="0.6"/>
<path d="M456.50,348.53 L456.30,341.28 L455.30,330.60 L453.80,322.06 L452.60,315.66 L452.30,309.25 L453.00,302.85 L454.40,296.44 L455.60,290.04 L456.20,283.63 L456.45,275.09 L456.50,249.47 L457.10,249.47 L457.15,275.09 L457.40,283.63 L458.00,290.04 L459.20,296.44 L460.60,302.85 L461.30,309.25 L461.00,315.66 L459.80,322.06 L458.30,330.60 L457.30,341.28 L457.10,348.53 Z" fill="none" stroke="#56286e" stroke-width="0.6" stroke-linejoin="round"/>
<rect x="453.90" y="299.43" width="5.80" height="17.93" fill="#fff" stroke="#56286e" stroke-width="0.7"/>
<line x1="453.90" y1="305.83" x2="459.70" y2="305.83" stroke="#56286e" stroke-width="0.7"/>
<line x1="456.80" y1="348.53" x2="456.80" y2="317.36" stroke="#56286e" stroke-width="0.6"/>
<line x1="456.80" y1="299.43" x2="456.80" y2="249.47" stroke="#56286e" stroke-width="0.6"/>
<circle cx="460.00" cy="248.40" r="0.6" fill="#3a1050"/>
<circle cx="459.60" cy="297.51" r="0.6" fill="#3a1050"/>
<circle cx="459.80" cy="300.71" r="0.6" fill="#3a1050"/>
<circle cx="453.60" cy="324.19" r="0.6" fill="#3a1050"/>
<circle cx="458.80" cy="309.25" r="0.6" fill="#3a1050"/>
<circle cx="455.80" cy="315.66" r="0.6" fill="#3a1050"/>
<circle cx="457.80" cy="303.91" r="0.6" fill="#3a1050"/>
<circle cx="460.20" cy="298.58" r="0.6" fill="#3a1050"/>
<circle cx="457.80" cy="322.06" r="0.6" fill="#3a1050"/>
<circle cx="455.30" cy="311.38" r="0.6" fill="#3a1050"/>
<path d="M476.7,293.24 L480.0,293.24 L482.0,319.50 L474.8,319.50 Z" fill="none" stroke="#56286e" stroke-width="0.8"/>
<rect x="476.40" y="293.88" width="3.30" height="25.19" fill="none" stroke="#56286e" stroke-width="0.7"/>
<line x1="476.40" y1="296.44" x2="479.70" y2="296.44" stroke="#56286e" stroke-width="0.6"/>
<circle cx="481.80" cy="319.50" r="0.6" fill="#3a1050"/>
<path d="M491,367.32 Q490,364.76 494,364.55 L506,364.55 Q510,364.76 509.5,367.32 Q510,372.23 505,372.02 L495,372.02 Q490,372.23 491,367.32 Z" fill="none" stroke="#d0405a" stroke-width="0.7"/>
<rect x="497.80" y="366.47" width="4.20" height="4.70" fill="none" stroke="#d0405a" stroke-width="0.6"/>
<line x1="497.80" y1="368.60" x2="502.00" y2="368.60" stroke="#d0405a" stroke-width="0.6"/>
<circle cx="494.50" cy="368.60" r="0.6" fill="#d0405a"/>
<text x="30.80" y="458.50" font-size="13.2" font-weight="bold" fill="#111" textLength="7.87" lengthAdjust="spacingAndGlyphs">E</text>
<text x="321.00" y="462.24" font-size="7.6" fill="#3a3a3a" stroke="#3a3a3a" stroke-width="0.22" text-anchor="middle" textLength="27.50" lengthAdjust="spacingAndGlyphs">Chain B</text>
<text x="385.50" y="462.24" font-size="7.6" fill="#3a3a3a" stroke="#3a3a3a" stroke-width="0.22" text-anchor="middle" textLength="28.40" lengthAdjust="spacingAndGlyphs">Chain C</text>
<text x="350.30" y="486.14" font-size="7.6" fill="#3a3a3a" stroke="#3a3a3a" stroke-width="0.22" text-anchor="middle">Ligand</text>
<text x="350.30" y="497.54" font-size="7.6" fill="#3a3a3a" stroke="#3a3a3a" stroke-width="0.22" text-anchor="middle">(Chain A)</text>
<text x="296.00" y="508.24" font-size="7.6" fill="#3a3a3a" stroke="#3a3a3a" stroke-width="0.22" text-anchor="end" textLength="15.00" lengthAdjust="spacingAndGlyphs">LBD</text>
<text x="297.30" y="578.14" font-size="7.6" fill="#3a3a3a" stroke="#3a3a3a" stroke-width="0.22" text-anchor="end" textLength="9.50" lengthAdjust="spacingAndGlyphs">FD</text>
<path d="M303.5,475 L300.6,475 L300.6,536.3 L303.5,536.3" fill="none" stroke="#777" stroke-width="0.8"/>
<path d="M304,545 L301.2,545 L301.2,606.5 L304,606.5" fill="none" stroke="#777" stroke-width="0.8"/>
<path d="M321.3,477.5 C322,471 320,468 313,467" fill="none" stroke="#222" stroke-width="0.9"/>
<path d="M379.9,477.5 C380,471 382,468 388,467" fill="none" stroke="#222" stroke-width="0.9"/>
<line x1="320.5" y1="603" x2="319.5" y2="616" stroke="#222" stroke-width="0.9"/>
<line x1="381.5" y1="603" x2="383.5" y2="616" stroke="#222" stroke-width="0.9"/>
<g transform="translate(321.30,477.50) rotate(-8.19)">
<path d="M-8.6,0 L-8.6,54.05 A8.6,3.8 0 0 0 8.6,54.05 L8.6,0 Z" fill="#f7e21a" stroke="#2a1e3a" stroke-width="0.9"/>
<ellipse cx="0" cy="0" rx="8.6" ry="3.8" fill="#f7e21a" stroke="#2a1e3a" stroke-width="0.9"/>
</g>
<g transform="translate(379.90,477.50) rotate(8.40)">
<path d="M-8.4,0 L-8.4,54.08 A8.4,3.8 0 0 0 8.4,54.08 L8.4,0 Z" fill="#c3cac6" stroke="#2a1e3a" stroke-width="0.9"/>
<ellipse cx="0" cy="0" rx="8.4" ry="3.8" fill="#c3cac6" stroke="#2a1e3a" stroke-width="0.9"/>
</g>
<g transform="translate(334.50,549.00) rotate(12.49)">
<path d="M-8.3,0 L-8.3,52.24 A8.3,3.6 0 0 0 8.3,52.24 L8.3,0 Z" fill="#c9b2d3" stroke="#2a1e3a" stroke-width="0.9"/>
<ellipse cx="0" cy="0" rx="8.3" ry="3.6" fill="#c9b2d3" stroke="#2a1e3a" stroke-width="0.9"/>
</g>
<g transform="translate(367.20,549.00) rotate(-14.51)">
<path d="M-8.3,0 L-8.3,52.68 A8.3,3.6 0 0 0 8.3,52.68 L8.3,0 Z" fill="#1b4a8a" stroke="#14223a" stroke-width="0.9"/>
<ellipse cx="0" cy="0" rx="8.3" ry="3.6" fill="#1b4a8a" stroke="#14223a" stroke-width="0.9"/>
</g>
<circle cx="350.90" cy="512.40" r="10.2" fill="#c8681e"/>
<line x1="406.90" y1="496.30" x2="335.50" y2="513.50" stroke="#555" stroke-width="0.6"/>
<line x1="406.90" y1="496.30" x2="366.20" y2="512.00" stroke="#555" stroke-width="0.6"/>
<line x1="406.90" y1="514.60" x2="319.20" y2="520.90" stroke="#555" stroke-width="0.6"/>
<line x1="406.90" y1="514.60" x2="382.00" y2="523.00" stroke="#555" stroke-width="0.6"/>
<line x1="406.90" y1="553.00" x2="331.90" y2="538.00" stroke="#555" stroke-width="0.6"/>
<line x1="406.90" y1="553.00" x2="370.00" y2="538.00" stroke="#555" stroke-width="0.6"/>
<circle cx="335.50" cy="513.50" r="2.5" fill="#b3163c"/>
<circle cx="366.20" cy="512.00" r="2.5" fill="#b3163c"/>
<circle cx="319.20" cy="520.90" r="2.7" fill="#2b2b70"/>
<circle cx="382.00" cy="523.00" r="2.7" fill="#2b2b70"/>
<line x1="329.00" y1="533.00" x2="333.50" y2="549.00" stroke="#222" stroke-width="0.9"/>
<line x1="372.00" y1="533.00" x2="367.80" y2="549.00" stroke="#222" stroke-width="0.9"/>
<circle cx="331.60" cy="538.30" r="2.4" fill="#e8c41e" stroke="#8a7010" stroke-width="0.4"/>
<circle cx="370.20" cy="538.30" r="2.4" fill="#e8c41e" stroke="#8a7010" stroke-width="0.4"/>
<g transform="translate(334.50,549.00) rotate(12.49)">
<path d="M-8.3,0 L-8.3,52.24 A8.3,3.6 0 0 0 8.3,52.24 L8.3,0 Z" fill="#c9b2d3" stroke="#2a1e3a" stroke-width="0.9"/>
<ellipse cx="0" cy="0" rx="8.3" ry="3.6" fill="#c9b2d3" stroke="#2a1e3a" stroke-width="0.9"/>
</g>
<g transform="translate(367.20,549.00) rotate(-14.51)">
<path d="M-8.3,0 L-8.3,52.68 A8.3,3.6 0 0 0 8.3,52.68 L8.3,0 Z" fill="#1b4a8a" stroke="#14223a" stroke-width="0.9"/>
<ellipse cx="0" cy="0" rx="8.3" ry="3.6" fill="#1b4a8a" stroke="#14223a" stroke-width="0.9"/>
</g>
<path d="M333.8,549.5 C333.5,546 334,544 333.2,542" fill="none" stroke="#222" stroke-width="0.9"/>
<path d="M367.8,549.5 C368,546 367.5,544 368.6,542" fill="none" stroke="#222" stroke-width="0.9"/>
<text x="410.80" y="498.89" font-size="7.2" fill="#c0245a" stroke="#c0245a" stroke-width="0.22" font-style="italic" textLength="37.50" lengthAdjust="spacingAndGlyphs">R102 (S92)</text>
<text x="411.70" y="517.79" font-size="7.2" fill="#6a4a8c" stroke="#6a4a8c" stroke-width="0.22" font-style="italic" textLength="33.70" lengthAdjust="spacingAndGlyphs">R90 (R80)</text>
<text x="410.40" y="556.59" font-size="7.2" fill="#e8b820" stroke="#e8b820" stroke-width="0.22" font-style="italic" textLength="43.60" lengthAdjust="spacingAndGlyphs">G131 (V119)</text>
<text x="86.50" y="486.04" font-size="7.6" fill="#3a3a3a" stroke="#3a3a3a" stroke-width="0.22" text-anchor="middle" textLength="27.00" lengthAdjust="spacingAndGlyphs">Chain B</text>
<text x="144.60" y="455.74" font-size="7.6" fill="#3a3a3a" stroke="#3a3a3a" stroke-width="0.22" text-anchor="middle">Ligand</text>
<text x="144.30" y="465.44" font-size="7.6" fill="#3a3a3a" stroke="#3a3a3a" stroke-width="0.22" text-anchor="middle" textLength="27.70" lengthAdjust="spacingAndGlyphs">Chain A</text>
<text x="188.80" y="484.64" font-size="7.6" fill="#3a3a3a" stroke="#3a3a3a" stroke-width="0.22" text-anchor="middle" textLength="28.40" lengthAdjust="spacingAndGlyphs">Chain C</text>
<text x="47.50" y="523.24" font-size="7.6" fill="#3a3a3a" stroke="#3a3a3a" stroke-width="0.22" text-anchor="end" textLength="15.00" lengthAdjust="spacingAndGlyphs">LBD</text>
<text x="86.20" y="580.74" font-size="7.6" fill="#3a3a3a" stroke="#3a3a3a" stroke-width="0.22" text-anchor="end" textLength="9.60" lengthAdjust="spacingAndGlyphs">FD</text>
<path d="M54.5,497.5 L51.8,497.5 L51.8,546 L54.5,546" fill="none" stroke="#777" stroke-width="0.8"/>
<path d="M92.8,556 L90,556 L90,604.5 L92.8,604.5" fill="none" stroke="#777" stroke-width="0.8"/>
<text x="228.40" y="503.79" font-size="7.2" fill="#c0245a" stroke="#c0245a" stroke-width="0.22" font-style="italic" textLength="37.40" lengthAdjust="spacingAndGlyphs">R102 (S92)</text>
<text x="229.00" y="537.29" font-size="7.2" fill="#6a4a8c" stroke="#6a4a8c" stroke-width="0.22" font-style="italic" textLength="33.70" lengthAdjust="spacingAndGlyphs">R90 (R80)</text>
<text x="199.50" y="558.89" font-size="7.2" fill="#e8b820" stroke="#e8b820" stroke-width="0.22" font-style="italic" textLength="44.00" lengthAdjust="spacingAndGlyphs">G131 (V119)</text>
<line x1="225.40" y1="499.60" x2="164.60" y2="517.30" stroke="#333" stroke-width="0.5"/>
<line x1="223.80" y1="533.50" x2="200.80" y2="521.00" stroke="#333" stroke-width="0.5"/>
<line x1="197.70" y1="552.00" x2="177.70" y2="536.50" stroke="#333" stroke-width="0.5"/>
<path d="M110.0,540.0 C109.3,541.0 107.3,543.3 106.0,546.0 C104.7,548.7 102.3,552.7 102.0,556.0 C101.7,559.3 104.2,562.8 104.0,566.0 C103.8,569.2 100.8,572.0 101.0,575.0 C101.2,578.0 104.7,581.2 105.0,584.0 C105.3,586.8 104.0,589.8 103.0,592.0 C102.0,594.2 99.0,595.5 99.0,597.0 C99.0,598.5 101.3,600.0 103.0,601.0 C104.7,602.0 107.2,602.2 109.0,603.0 C110.8,603.8 112.2,604.8 114.0,606.0 C115.8,607.2 117.8,609.7 120.0,610.0 C122.2,610.3 125.2,609.2 127.0,608.0 C128.8,606.8 129.3,603.5 131.0,603.0 C132.7,602.5 135.3,605.5 137.0,605.0 C138.7,604.5 140.8,601.8 141.0,600.0 C141.2,598.2 139.2,595.5 138.0,594.0 C136.8,592.5 134.7,591.5 134.0,591.0" fill="none" stroke="#8a6a8e" stroke-width="0.8" stroke-linecap="round" stroke-linejoin="round"/>
<path d="M114.0,545.0 C115.0,544.7 117.8,542.8 120.0,543.0 C122.2,543.2 125.2,544.7 127.0,546.0 C128.8,547.3 130.8,549.2 131.0,551.0 C131.2,552.8 127.7,555.3 128.0,557.0 C128.3,558.7 131.3,560.8 133.0,561.0 C134.7,561.2 136.8,557.3 138.0,558.0 C139.2,558.7 140.3,562.7 140.0,565.0 C139.7,567.3 136.2,569.5 136.0,572.0 C135.8,574.5 139.0,577.5 139.0,580.0 C139.0,582.5 136.5,585.8 136.0,587.0" fill="none" stroke="#8a6a8e" stroke-width="0.8" stroke-linecap="round" stroke-linejoin="round"/>
<path d="M107.0,562.0 C107.7,563.0 110.8,565.7 111.0,568.0 C111.2,570.3 107.8,573.3 108.0,576.0 C108.2,578.7 111.8,581.3 112.0,584.0 C112.2,586.7 109.5,590.7 109.0,592.0" fill="none" stroke="#8a6a8e" stroke-width="0.7" stroke-linecap="round" stroke-linejoin="round"/>
<path d="M100.0,596.0 C99.3,596.3 96.3,597.0 96.0,598.0 C95.7,599.0 97.0,601.7 98.0,602.0 C99.0,602.3 101.3,600.3 102.0,600.0" fill="none" stroke="#8a6a8e" stroke-width="0.7" stroke-linecap="round" stroke-linejoin="round"/>
<polygon points="107.4,551.4 118.3,593.6 116.9,593.9 121.0,597.0 123.1,592.3 121.6,592.7 110.6,550.6" fill="#e2d2e8" stroke="#8a6a8e" stroke-width="0.4" stroke-linejoin="round"/>
<polygon points="113.4,549.4 124.3,589.6 122.8,590.0 127.0,593.0 129.1,588.3 127.6,588.7 116.6,548.6" fill="#e2d2e8" stroke="#8a6a8e" stroke-width="0.4" stroke-linejoin="round"/>
<polygon points="132.5,595.6 122.6,559.4 124.0,559.1 120.0,556.0 118.1,560.7 119.5,560.3 129.5,596.4" fill="#e2d2e8" stroke="#8a6a8e" stroke-width="0.4" stroke-linejoin="round"/>
<polygon points="136.4,589.5 128.7,565.3 129.9,564.9 126.0,562.0 124.5,566.7 125.8,566.3 133.6,590.5" fill="#e2d2e8" stroke="#8a6a8e" stroke-width="0.4" stroke-linejoin="round"/>
<polygon points="113.2,599.6 108.4,583.5 109.5,583.1 106.0,580.0 104.8,584.5 105.9,584.2 110.8,600.4" fill="#e2d2e8" stroke="#8a6a8e" stroke-width="0.4" stroke-linejoin="round"/>
<path d="M117,605.5 L123,606" stroke="#222" stroke-width="1.6"/>
<path d="M162.0,538.0 C161.0,538.7 157.8,540.2 156.0,542.0 C154.2,543.8 152.3,546.3 151.0,549.0 C149.7,551.7 147.8,555.2 148.0,558.0 C148.2,560.8 151.8,563.2 152.0,566.0 C152.2,568.8 148.8,572.0 149.0,575.0 C149.2,578.0 153.0,581.2 153.0,584.0 C153.0,586.8 150.2,589.7 149.0,592.0 C147.8,594.3 145.8,596.3 146.0,598.0 C146.2,599.7 148.2,601.8 150.0,602.0 C151.8,602.2 154.8,599.2 157.0,599.0 C159.2,598.8 161.3,599.7 163.0,601.0 C164.7,602.3 165.3,605.5 167.0,607.0 C168.7,608.5 170.8,610.2 173.0,610.0 C175.2,609.8 177.7,607.2 180.0,606.0 C182.3,604.8 184.8,603.0 187.0,603.0 C189.2,603.0 191.2,606.3 193.0,606.0 C194.8,605.7 197.8,603.0 198.0,601.0 C198.2,599.0 195.7,595.8 194.0,594.0 C192.3,592.2 189.5,591.7 188.0,590.0 C186.5,588.3 185.5,585.0 185.0,584.0" fill="none" stroke="#34348c" stroke-width="0.85" stroke-linecap="round" stroke-linejoin="round"/>
<path d="M170.0,538.0 C171.2,538.3 175.0,538.8 177.0,540.0 C179.0,541.2 180.2,543.5 182.0,545.0 C183.8,546.5 187.3,547.2 188.0,549.0 C188.7,550.8 185.7,553.8 186.0,556.0 C186.3,558.2 189.0,559.7 190.0,562.0 C191.0,564.3 192.5,567.5 192.0,570.0 C191.5,572.5 187.8,575.8 187.0,577.0" fill="none" stroke="#34348c" stroke-width="0.8" stroke-linecap="round" stroke-linejoin="round"/>
<path d="M156.0,548.0 C156.7,549.2 160.0,552.7 160.0,555.0 C160.0,557.3 156.0,559.5 156.0,562.0 C156.0,564.5 159.8,567.3 160.0,570.0 C160.2,572.7 156.7,575.5 157.0,578.0 C157.3,580.5 161.2,583.8 162.0,585.0" fill="none" stroke="#34348c" stroke-width="0.75" stroke-linecap="round" stroke-linejoin="round"/>
<polygon points="157.8,547.4 172.5,593.6 171.4,593.9 175.0,597.0 176.1,592.4 175.0,592.8 160.2,546.6" fill="#5656b6" stroke="#34348c" stroke-width="0.4" stroke-linejoin="round"/>
<polygon points="163.8,545.4 178.5,589.6 177.4,590.0 181.0,593.0 182.1,588.4 181.0,588.8 166.2,544.6" fill="#5656b6" stroke="#34348c" stroke-width="0.4" stroke-linejoin="round"/>
<polygon points="187.1,595.6 172.5,555.3 173.5,555.0 170.0,552.0 169.2,556.5 170.2,556.2 184.9,596.4" fill="#5656b6" stroke="#34348c" stroke-width="0.4" stroke-linejoin="round"/>
<polygon points="161.1,592.4 167.8,574.2 168.8,574.5 168.0,570.0 164.5,573.0 165.5,573.3 158.9,591.6" fill="#5656b6" stroke="#34348c" stroke-width="0.4" stroke-linejoin="round"/>
<path d="M174.5,583 L178,597" stroke="#111" stroke-width="2.6"/>
<path d="M74.0,503.0 C73.3,502.0 70.2,498.8 70.0,497.0 C69.8,495.2 71.5,493.0 73.0,492.0 C74.5,491.0 77.2,490.3 79.0,491.0 C80.8,491.7 82.8,494.3 84.0,496.0 C85.2,497.7 85.7,500.2 86.0,501.0" fill="none" stroke="#b0a830" stroke-width="0.95" stroke-linecap="round" stroke-linejoin="round"/>
<path d="M93.0,502.0 C93.3,500.8 93.7,496.8 95.0,495.0 C96.3,493.2 99.0,491.8 101.0,491.0 C103.0,490.2 105.2,489.8 107.0,490.0 C108.8,490.2 111.0,490.7 112.0,492.0 C113.0,493.3 113.3,496.2 113.0,498.0 C112.7,499.8 110.5,502.2 110.0,503.0" fill="none" stroke="#b0a830" stroke-width="0.95" stroke-linecap="round" stroke-linejoin="round"/>
<path d="M76.0,506.0 C74.7,505.8 69.7,504.2 68.0,505.0 C66.3,505.8 67.5,509.5 66.0,511.0 C64.5,512.5 60.7,512.8 59.0,514.0 C57.3,515.2 56.3,516.5 56.0,518.0 C55.7,519.5 56.0,521.8 57.0,523.0 C58.0,524.2 60.2,524.8 62.0,525.0 C63.8,525.2 66.7,523.3 68.0,524.0 C69.3,524.7 69.7,528.2 70.0,529.0" fill="none" stroke="#b0a830" stroke-width="0.95" stroke-linecap="round" stroke-linejoin="round"/>
<path d="M70.0,532.0 C69.3,532.8 67.0,535.2 66.0,537.0 C65.0,538.8 63.7,541.3 64.0,543.0 C64.3,544.7 66.5,546.5 68.0,547.0 C69.5,547.5 72.0,547.2 73.0,546.0 C74.0,544.8 73.3,541.3 74.0,540.0 C74.7,538.7 76.5,538.3 77.0,538.0" fill="none" stroke="#b0a830" stroke-width="0.95" stroke-linecap="round" stroke-linejoin="round"/>
<path d="M90.0,527.0 C89.5,527.7 87.7,529.3 87.0,531.0 C86.3,532.7 85.5,535.5 86.0,537.0 C86.5,538.5 88.5,539.7 90.0,540.0 C91.5,540.3 93.8,538.3 95.0,539.0 C96.2,539.7 96.7,543.2 97.0,544.0" fill="none" stroke="#b0a830" stroke-width="0.95" stroke-linecap="round" stroke-linejoin="round"/>
<path d="M93.0,526.0 C93.8,525.7 96.3,523.8 98.0,524.0 C99.7,524.2 101.5,526.0 103.0,527.0 C104.5,528.0 105.5,529.0 107.0,530.0 C108.5,531.0 111.2,532.5 112.0,533.0" fill="none" stroke="#b0a830" stroke-width="0.95" stroke-linecap="round" stroke-linejoin="round"/>
<path d="M84.0,515.0 C84.7,514.7 86.7,512.8 88.0,513.0 C89.3,513.2 90.3,515.7 92.0,516.0 C93.7,516.3 96.2,515.7 98.0,515.0 C99.8,514.3 102.2,512.5 103.0,512.0" fill="none" stroke="#b0a830" stroke-width="0.95" stroke-linecap="round" stroke-linejoin="round"/>
<path d="M108.0,509.0 C108.7,509.3 110.5,510.2 112.0,511.0 C113.5,511.8 116.2,513.5 117.0,514.0" fill="none" stroke="#b0a830" stroke-width="0.95" stroke-linecap="round" stroke-linejoin="round"/>
<path d="M66.0,512.0 C66.7,512.7 68.7,514.7 70.0,516.0 C71.3,517.3 73.8,518.3 74.0,520.0 C74.2,521.7 71.5,525.0 71.0,526.0" fill="none" stroke="#b0a830" stroke-width="0.6" stroke-linecap="round" stroke-linejoin="round"/>
<polygon points="76.0,504.3 103.0,503.4 103.1,504.6 107.0,502.0 102.9,499.7 103.0,500.8 76.0,501.7" fill="#d2d43a" stroke="#8a8a18" stroke-width="0.4" stroke-linejoin="round"/>
<polygon points="78.9,507.3 103.9,509.0 103.8,510.2 108.0,508.0 104.2,505.3 104.1,506.4 79.1,504.7" fill="#d2d43a" stroke="#8a8a18" stroke-width="0.4" stroke-linejoin="round"/>
<polygon points="83.8,511.3 101.8,514.6 101.6,515.7 106.0,514.0 102.5,510.9 102.3,512.0 84.2,508.7" fill="#d2d43a" stroke="#8a8a18" stroke-width="0.4" stroke-linejoin="round"/>
<polygon points="70.6,532.3 84.9,525.9 85.4,527.1 88.0,523.0 83.3,522.2 83.8,523.3 69.4,529.7" fill="#d2d43a" stroke="#8a8a18" stroke-width="0.4" stroke-linejoin="round"/>
<polygon points="76.0,526.3 90.0,526.3 90.0,527.5 94.0,525.0 90.0,522.5 90.0,523.7 76.0,523.7" fill="#d2d43a" stroke="#8a8a18" stroke-width="0.4" stroke-linejoin="round"/>
<g transform="translate(84.5,548.5) rotate(-13.4)">
<rect x="0" y="-3.75" width="10.79" height="7.50" rx="3.41" fill="#3a3a14"/>
<ellipse cx="1.35" cy="0" rx="0.59" ry="2.70" fill="#d8d890"/>
<ellipse cx="4.05" cy="0" rx="0.59" ry="2.70" fill="#d8d890"/>
<ellipse cx="6.75" cy="0" rx="0.59" ry="2.70" fill="#d8d890"/>
<ellipse cx="9.44" cy="0" rx="0.59" ry="2.70" fill="#d8d890"/>
</g>
<ellipse cx="78.0" cy="533.5" rx="3.8" ry="6.0" fill="#cc1473" transform="rotate(-20 78.0 533.5)"/><ellipse cx="76.9" cy="531.7" rx="1.33" ry="1.80" fill="#f070b0" opacity="0.6"/>
<ellipse cx="81.0" cy="539.5" rx="2.6" ry="3.6" fill="#b80f62" transform="rotate(0 81.0 539.5)"/>
<ellipse cx="114.5" cy="515.5" rx="5.0" ry="5.3" fill="#e31b1b" transform="rotate(0 114.5 515.5)"/><ellipse cx="113.0" cy="513.9" rx="1.75" ry="1.59" fill="#ff8080" opacity="0.6"/>
<ellipse cx="109.5" cy="520.0" rx="3.2" ry="3.4" fill="#3b2a10" transform="rotate(0 109.5 520.0)"/>
<ellipse cx="110.6" cy="536.2" rx="4.0" ry="4.6" fill="#e6601a" transform="rotate(0 110.6 536.2)"/><ellipse cx="109.4" cy="534.8" rx="1.40" ry="1.38" fill="#ffa060" opacity="0.6"/>
<path d="M131.0,484.0 C130.8,482.8 129.7,479.0 130.0,477.0 C130.3,475.0 131.7,473.0 133.0,472.0 C134.3,471.0 136.8,470.5 138.0,471.0 C139.2,471.5 140.2,473.5 140.0,475.0 C139.8,476.5 137.7,478.2 137.0,480.0 C136.3,481.8 136.2,485.0 136.0,486.0" fill="none" stroke="#8a7420" stroke-width="0.9" stroke-linecap="round" stroke-linejoin="round"/>
<path d="M121.0,490.0 C120.3,489.5 117.3,488.2 117.0,487.0 C116.7,485.8 117.8,483.3 119.0,483.0 C120.2,482.7 122.3,484.2 124.0,485.0 C125.7,485.8 127.5,487.0 129.0,488.0 C130.5,489.0 132.3,490.5 133.0,491.0" fill="none" stroke="#8a7420" stroke-width="0.9" stroke-linecap="round" stroke-linejoin="round"/>
<path d="M155.0,478.0 C155.5,477.3 157.0,473.8 158.0,474.0 C159.0,474.2 160.5,478.2 161.0,479.0" fill="none" stroke="#8a7420" stroke-width="0.9" stroke-linecap="round" stroke-linejoin="round"/>
<path d="M128.0,496.0 C127.0,496.7 123.7,498.5 122.0,500.0 C120.3,501.5 119.3,503.3 118.0,505.0 C116.7,506.7 114.7,509.2 114.0,510.0" fill="none" stroke="#8a7420" stroke-width="0.8" stroke-linecap="round" stroke-linejoin="round"/>
<path d="M125.0,530.0 C124.3,531.0 122.5,534.3 121.0,536.0 C119.5,537.7 117.5,538.7 116.0,540.0 C114.5,541.3 112.7,543.3 112.0,544.0" fill="none" stroke="#8a7420" stroke-width="0.7" stroke-linecap="round" stroke-linejoin="round"/>
<path d="M131.0,534.0 C131.3,535.0 133.2,538.0 133.0,540.0 C132.8,542.0 130.5,545.0 130.0,546.0" fill="none" stroke="#8a7420" stroke-width="0.8" stroke-linecap="round" stroke-linejoin="round"/>
<path d="M147.0,532.0 C146.7,533.0 145.8,536.2 145.0,538.0 C144.2,539.8 142.5,542.2 142.0,543.0" fill="none" stroke="#8a7420" stroke-width="0.8" stroke-linecap="round" stroke-linejoin="round"/>
<g transform="translate(128.5,494.0) rotate(89.3)">
<rect x="0" y="-3.75" width="43.00" height="7.50" rx="3.41" fill="#7a6412"/>
<ellipse cx="2.69" cy="0" rx="1.18" ry="2.70" fill="#cdb66a"/>
<ellipse cx="8.06" cy="0" rx="1.18" ry="2.70" fill="#cdb66a"/>
<ellipse cx="13.44" cy="0" rx="1.18" ry="2.70" fill="#cdb66a"/>
<ellipse cx="18.81" cy="0" rx="1.18" ry="2.70" fill="#cdb66a"/>
<ellipse cx="24.19" cy="0" rx="1.18" ry="2.70" fill="#cdb66a"/>
<ellipse cx="29.56" cy="0" rx="1.18" ry="2.70" fill="#cdb66a"/>
<ellipse cx="34.94" cy="0" rx="1.18" ry="2.70" fill="#cdb66a"/>
<ellipse cx="40.32" cy="0" rx="1.18" ry="2.70" fill="#cdb66a"/>
</g>
<g transform="translate(135.0,495.0) rotate(89.2)">
<rect x="0" y="-3.50" width="37.00" height="7.00" rx="3.18" fill="#7a6412"/>
<ellipse cx="2.64" cy="0" rx="1.16" ry="2.52" fill="#cdb66a"/>
<ellipse cx="7.93" cy="0" rx="1.16" ry="2.52" fill="#cdb66a"/>
<ellipse cx="13.22" cy="0" rx="1.16" ry="2.52" fill="#cdb66a"/>
<ellipse cx="18.50" cy="0" rx="1.16" ry="2.52" fill="#cdb66a"/>
<ellipse cx="23.79" cy="0" rx="1.16" ry="2.52" fill="#cdb66a"/>
<ellipse cx="29.07" cy="0" rx="1.16" ry="2.52" fill="#cdb66a"/>
<ellipse cx="34.36" cy="0" rx="1.16" ry="2.52" fill="#cdb66a"/>
</g>
<g transform="translate(145.0,526.0) rotate(90.0)">
<rect x="0" y="-3.50" width="16.00" height="7.00" rx="3.18" fill="#7a6412"/>
<ellipse cx="2.67" cy="0" rx="1.17" ry="2.52" fill="#cdb66a"/>
<ellipse cx="8.00" cy="0" rx="1.17" ry="2.52" fill="#cdb66a"/>
<ellipse cx="13.33" cy="0" rx="1.17" ry="2.52" fill="#cdb66a"/>
</g>
<g transform="translate(147.4,496.4) rotate(58.9)">
<rect x="0" y="-4.00" width="14.71" height="8.00" rx="3.64" fill="#6b5508"/>
<ellipse cx="1.47" cy="0" rx="0.65" ry="2.88" fill="#efe2b0"/>
<ellipse cx="4.41" cy="0" rx="0.65" ry="2.88" fill="#efe2b0"/>
<ellipse cx="7.36" cy="0" rx="0.65" ry="2.88" fill="#efe2b0"/>
<ellipse cx="10.30" cy="0" rx="0.65" ry="2.88" fill="#efe2b0"/>
<ellipse cx="13.24" cy="0" rx="0.65" ry="2.88" fill="#efe2b0"/>
</g>
<g transform="translate(155.0,508.0) rotate(111.8)">
<rect x="0" y="-4.00" width="20.46" height="8.00" rx="3.64" fill="#6b5508"/>
<ellipse cx="1.71" cy="0" rx="0.75" ry="2.88" fill="#efe2b0"/>
<ellipse cx="5.12" cy="0" rx="0.75" ry="2.88" fill="#efe2b0"/>
<ellipse cx="8.53" cy="0" rx="0.75" ry="2.88" fill="#efe2b0"/>
<ellipse cx="11.94" cy="0" rx="0.75" ry="2.88" fill="#efe2b0"/>
<ellipse cx="15.35" cy="0" rx="0.75" ry="2.88" fill="#efe2b0"/>
<ellipse cx="18.76" cy="0" rx="0.75" ry="2.88" fill="#efe2b0"/>
</g>
<g transform="translate(145.0,510.8) rotate(125.2)">
<rect x="0" y="-3.00" width="12.49" height="6.00" rx="2.73" fill="#7a6412"/>
<ellipse cx="2.08" cy="0" rx="0.92" ry="2.16" fill="#cdb66a"/>
<ellipse cx="6.24" cy="0" rx="0.92" ry="2.16" fill="#cdb66a"/>
<ellipse cx="10.40" cy="0" rx="0.92" ry="2.16" fill="#cdb66a"/>
</g>
<g transform="translate(155.8,478.4) rotate(129.2)">
<rect x="0" y="-4.20" width="26.58" height="8.40" rx="3.82" fill="#7a6412"/>
<ellipse cx="1.90" cy="0" rx="0.84" ry="3.02" fill="#cdb66a"/>
<ellipse cx="5.70" cy="0" rx="0.84" ry="3.02" fill="#cdb66a"/>
<ellipse cx="9.49" cy="0" rx="0.84" ry="3.02" fill="#cdb66a"/>
<ellipse cx="13.29" cy="0" rx="0.84" ry="3.02" fill="#cdb66a"/>
<ellipse cx="17.09" cy="0" rx="0.84" ry="3.02" fill="#cdb66a"/>
<ellipse cx="20.89" cy="0" rx="0.84" ry="3.02" fill="#cdb66a"/>
<ellipse cx="24.68" cy="0" rx="0.84" ry="3.02" fill="#cdb66a"/>
</g>
<path d="M171.0,499.0 C170.2,498.2 166.7,495.7 166.0,494.0 C165.3,492.3 165.7,490.2 167.0,489.0 C168.3,487.8 171.7,486.8 174.0,487.0 C176.3,487.2 178.8,488.8 181.0,490.0 C183.2,491.2 186.0,493.3 187.0,494.0" fill="none" stroke="#2f7f8f" stroke-width="0.95" stroke-linecap="round" stroke-linejoin="round"/>
<path d="M205.0,493.0 C205.7,492.5 207.5,490.0 209.0,490.0 C210.5,490.0 212.7,491.5 214.0,493.0 C215.3,494.5 216.2,496.8 217.0,499.0 C217.8,501.2 219.3,503.8 219.0,506.0 C218.7,508.2 215.8,510.0 215.0,512.0 C214.2,514.0 213.7,516.0 214.0,518.0 C214.3,520.0 217.2,522.2 217.0,524.0 C216.8,525.8 213.7,528.2 213.0,529.0" fill="none" stroke="#2f7f8f" stroke-width="0.95" stroke-linecap="round" stroke-linejoin="round"/>
<path d="M170.0,508.0 C169.2,508.7 166.5,510.7 165.0,512.0 C163.5,513.3 161.2,514.5 161.0,516.0 C160.8,517.5 162.3,520.3 164.0,521.0 C165.7,521.7 169.8,520.2 171.0,520.0" fill="none" stroke="#2f7f8f" stroke-width="0.95" stroke-linecap="round" stroke-linejoin="round"/>
<path d="M168.0,527.0 C168.7,527.7 170.3,530.2 172.0,531.0 C173.7,531.8 176.0,532.3 178.0,532.0 C180.0,531.7 183.0,529.5 184.0,529.0" fill="none" stroke="#2f7f8f" stroke-width="0.95" stroke-linecap="round" stroke-linejoin="round"/>
<path d="M166.0,529.0 C166.5,529.8 168.0,532.5 169.0,534.0 C170.0,535.5 171.5,537.3 172.0,538.0" fill="none" stroke="#2f7f8f" stroke-width="0.9" stroke-linecap="round" stroke-linejoin="round"/>
<path d="M186.0,494.0 C186.7,493.3 188.3,490.3 190.0,490.0 C191.7,489.7 195.0,491.7 196.0,492.0" fill="none" stroke="#2f7f8f" stroke-width="0.95" stroke-linecap="round" stroke-linejoin="round"/>
<polygon points="170.3,503.7 199.3,499.3 199.5,500.8 203.0,497.0 198.6,494.4 198.8,495.9 169.7,500.3" fill="#7ccdd8" stroke="#2c7c88" stroke-width="0.4" stroke-linejoin="round"/>
<polygon points="171.2,508.7 201.2,505.2 201.4,506.7 205.0,503.0 200.7,500.3 200.8,501.8 170.8,505.3" fill="#7ccdd8" stroke="#2c7c88" stroke-width="0.4" stroke-linejoin="round"/>
<polygon points="173.2,513.7 200.2,511.1 200.3,512.6 204.0,509.0 199.7,506.2 199.9,507.7 172.8,510.3" fill="#7ccdd8" stroke="#2c7c88" stroke-width="0.4" stroke-linejoin="round"/>
<polygon points="175.1,518.6 196.1,516.9 196.3,518.3 200.0,515.0 195.8,512.3 195.9,513.7 174.9,515.4" fill="#7ccdd8" stroke="#2c7c88" stroke-width="0.4" stroke-linejoin="round"/>
<polygon points="178.2,524.5 193.2,522.9 193.3,524.3 197.0,521.0 192.7,518.6 192.9,519.9 177.8,521.5" fill="#7ccdd8" stroke="#2c7c88" stroke-width="0.4" stroke-linejoin="round"/>
<polygon points="202.0,515.1 213.0,524.5 212.1,525.6 217.0,526.0 215.8,521.2 214.9,522.3 204.0,512.9" fill="#7ccdd8" stroke="#2c7c88" stroke-width="0.4" stroke-linejoin="round"/>
<g transform="translate(199.0,492.5) rotate(0.0)">
<rect x="0" y="-2.75" width="8.00" height="5.50" rx="2.50" fill="#3a9aaa"/>
<ellipse cx="2.00" cy="0" rx="0.88" ry="1.98" fill="#d8f4f8"/>
<ellipse cx="6.00" cy="0" rx="0.88" ry="1.98" fill="#d8f4f8"/>
</g>
<g transform="translate(185.5,531.0) rotate(31.0)">
<rect x="0" y="-4.25" width="17.49" height="8.50" rx="3.86" fill="#17252a"/>
<ellipse cx="2.19" cy="0" rx="0.96" ry="3.06" fill="#cfe9ee"/>
<ellipse cx="6.56" cy="0" rx="0.96" ry="3.06" fill="#cfe9ee"/>
<ellipse cx="10.93" cy="0" rx="0.96" ry="3.06" fill="#cfe9ee"/>
<ellipse cx="15.31" cy="0" rx="0.96" ry="3.06" fill="#cfe9ee"/>
</g>
<g transform="translate(193.5,535.5) rotate(34.5)">
<rect x="0" y="-4.00" width="9.71" height="8.00" rx="3.64" fill="#3aa8b8"/>
<ellipse cx="2.43" cy="0" rx="1.07" ry="2.88" fill="#d8f0f4"/>
<ellipse cx="7.28" cy="0" rx="1.07" ry="2.88" fill="#d8f0f4"/>
</g>
<ellipse cx="199.5" cy="518.5" rx="3.8" ry="6.0" fill="#c81270" transform="rotate(10 199.5 518.5)"/><ellipse cx="198.4" cy="516.7" rx="1.33" ry="1.80" fill="#f070b0" opacity="0.6"/>
<ellipse cx="161.4" cy="521.5" rx="3.6" ry="5.2" fill="#cf1f28" transform="rotate(0 161.4 521.5)"/><ellipse cx="160.3" cy="519.9" rx="1.26" ry="1.56" fill="#ff8080" opacity="0.6"/>
<ellipse cx="173.0" cy="535.6" rx="3.8" ry="3.9" fill="#e0601a" transform="rotate(0 173.0 535.6)"/><ellipse cx="171.9" cy="534.4" rx="1.33" ry="1.17" fill="#ffa060" opacity="0.6"/>
<rect x="0.4" y="0.4" width="519.2" height="625.2" fill="none" stroke="#555" stroke-width="0.9"/>
</svg></body></html>
